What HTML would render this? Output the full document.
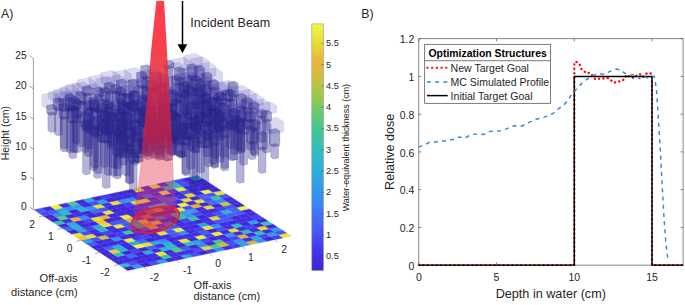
<!DOCTYPE html>
<html><head><meta charset="utf-8"><style>
html,body{margin:0;padding:0;background:#fff;}
svg{display:block;font-family:"Liberation Sans",sans-serif;fill:#262626;}
</style></head><body>
<svg width="685" height="305" viewBox="0 0 685 305">
<rect width="685" height="305" fill="#fff"/>
<text x="1.0" y="18.2" font-size="12.3">A)</text>
<line x1="33.4" y1="58.3" x2="33.4" y2="209.8" stroke="#8a8a8a" stroke-width="0.8"/>
<line x1="33.4" y1="209.8" x2="29.8" y2="207.1" stroke="#777" stroke-width="0.7"/>
<text x="26.6" y="210.2" font-size="10.2" text-anchor="end">0</text>
<line x1="33.4" y1="179.5" x2="29.8" y2="176.8" stroke="#777" stroke-width="0.7"/>
<text x="26.6" y="180.0" font-size="10.2" text-anchor="end">5</text>
<line x1="33.4" y1="149.2" x2="29.8" y2="146.6" stroke="#777" stroke-width="0.7"/>
<text x="26.6" y="149.8" font-size="10.2" text-anchor="end">10</text>
<line x1="33.4" y1="119.0" x2="29.8" y2="116.3" stroke="#777" stroke-width="0.7"/>
<text x="26.6" y="119.5" font-size="10.2" text-anchor="end">15</text>
<line x1="33.4" y1="88.8" x2="29.8" y2="86.0" stroke="#777" stroke-width="0.7"/>
<text x="26.6" y="89.2" font-size="10.2" text-anchor="end">20</text>
<line x1="33.4" y1="58.5" x2="29.8" y2="55.8" stroke="#777" stroke-width="0.7"/>
<text x="26.6" y="59.0" font-size="10.2" text-anchor="end">25</text>
<text transform="translate(9.4,133.2) rotate(-90)" font-size="10.5" text-anchor="middle">Height (cm)</text>
<polygon points="127.7,270.6 135.9,268.8 131.2,265.8 123.0,267.5" fill="#3f27d5" stroke="#3f27d5" stroke-width="0.35"/>
<polygon points="123.0,267.5 131.2,265.8 126.5,262.8 118.3,264.5" fill="#31bac3" stroke="#31bac3" stroke-width="0.35"/>
<polygon points="118.3,264.5 126.5,262.8 121.8,259.7 113.6,261.4" fill="#3f29da" stroke="#3f29da" stroke-width="0.35"/>
<polygon points="113.6,261.4 121.8,259.7 117.1,256.7 109.0,258.4" fill="#402add" stroke="#402add" stroke-width="0.35"/>
<polygon points="109.0,258.4 117.1,256.7 112.5,253.7 104.3,255.4" fill="#3f2adc" stroke="#3f2adc" stroke-width="0.35"/>
<polygon points="104.3,255.4 112.5,253.7 107.8,250.6 99.6,252.3" fill="#3e27d4" stroke="#3e27d4" stroke-width="0.35"/>
<polygon points="99.6,252.3 107.8,250.6 103.1,247.6 94.9,249.3" fill="#412de4" stroke="#412de4" stroke-width="0.35"/>
<polygon points="94.9,249.3 103.1,247.6 98.4,244.5 90.2,246.3" fill="#3f28d7" stroke="#3f28d7" stroke-width="0.35"/>
<polygon points="90.2,246.3 98.4,244.5 93.7,241.5 85.5,243.2" fill="#445df4" stroke="#445df4" stroke-width="0.35"/>
<polygon points="85.5,243.2 93.7,241.5 89.0,238.5 80.8,240.2" fill="#339ce9" stroke="#339ce9" stroke-width="0.35"/>
<polygon points="80.8,240.2 89.0,238.5 84.3,235.4 76.2,237.2" fill="#e8c93a" stroke="#e8c93a" stroke-width="0.35"/>
<polygon points="76.2,237.2 84.3,235.4 79.7,232.4 71.5,234.1" fill="#e7df3a" stroke="#e7df3a" stroke-width="0.35"/>
<polygon points="71.5,234.1 79.7,232.4 75.0,229.4 66.8,231.1" fill="#3e27d5" stroke="#3e27d5" stroke-width="0.35"/>
<polygon points="66.8,231.1 75.0,229.4 70.3,226.3 62.1,228.1" fill="#4267f4" stroke="#4267f4" stroke-width="0.35"/>
<polygon points="62.1,228.1 70.3,226.3 65.6,223.3 57.4,225.0" fill="#402bdf" stroke="#402bdf" stroke-width="0.35"/>
<polygon points="57.4,225.0 65.6,223.3 60.9,220.3 52.7,222.0" fill="#36c1ad" stroke="#36c1ad" stroke-width="0.35"/>
<polygon points="52.7,222.0 60.9,220.3 56.2,217.2 48.1,219.0" fill="#3e27d3" stroke="#3e27d3" stroke-width="0.35"/>
<polygon points="48.1,219.0 56.2,217.2 51.6,214.2 43.4,215.9" fill="#3f28d7" stroke="#3f28d7" stroke-width="0.35"/>
<polygon points="43.4,215.9 51.6,214.2 46.9,211.2 38.7,212.9" fill="#4647f2" stroke="#4647f2" stroke-width="0.35"/>
<polygon points="38.7,212.9 46.9,211.2 42.2,208.1 34.0,209.8" fill="#455bf4" stroke="#455bf4" stroke-width="0.35"/>
<polygon points="135.9,268.8 144.1,267.1 139.4,264.1 131.2,265.8" fill="#3598ec" stroke="#3598ec" stroke-width="0.35"/>
<polygon points="131.2,265.8 139.4,264.1 134.7,261.0 126.5,262.8" fill="#4753f4" stroke="#4753f4" stroke-width="0.35"/>
<polygon points="126.5,262.8 134.7,261.0 130.0,258.0 121.8,259.7" fill="#402bdf" stroke="#402bdf" stroke-width="0.35"/>
<polygon points="121.8,259.7 130.0,258.0 125.3,255.0 117.1,256.7" fill="#412ee6" stroke="#412ee6" stroke-width="0.35"/>
<polygon points="117.1,256.7 125.3,255.0 120.6,251.9 112.5,253.7" fill="#35bfb3" stroke="#35bfb3" stroke-width="0.35"/>
<polygon points="112.5,253.7 120.6,251.9 116.0,248.9 107.8,250.6" fill="#e7cd39" stroke="#e7cd39" stroke-width="0.35"/>
<polygon points="107.8,250.6 116.0,248.9 111.3,245.9 103.1,247.6" fill="#4364f4" stroke="#4364f4" stroke-width="0.35"/>
<polygon points="103.1,247.6 111.3,245.9 106.6,242.8 98.4,244.5" fill="#402add" stroke="#402add" stroke-width="0.35"/>
<polygon points="98.4,244.5 106.6,242.8 101.9,239.8 93.7,241.5" fill="#402ce1" stroke="#402ce1" stroke-width="0.35"/>
<polygon points="93.7,241.5 101.9,239.8 97.2,236.8 89.0,238.5" fill="#484ef3" stroke="#484ef3" stroke-width="0.35"/>
<polygon points="89.0,238.5 97.2,236.8 92.5,233.7 84.3,235.4" fill="#e7e03a" stroke="#e7e03a" stroke-width="0.35"/>
<polygon points="84.3,235.4 92.5,233.7 87.8,230.7 79.7,232.4" fill="#484ef4" stroke="#484ef4" stroke-width="0.35"/>
<polygon points="79.7,232.4 87.8,230.7 83.2,227.7 75.0,229.4" fill="#329fe7" stroke="#329fe7" stroke-width="0.35"/>
<polygon points="75.0,229.4 83.2,227.7 78.5,224.6 70.3,226.3" fill="#2eafda" stroke="#2eafda" stroke-width="0.35"/>
<polygon points="70.3,226.3 78.5,224.6 73.8,221.6 65.6,223.3" fill="#30a8df" stroke="#30a8df" stroke-width="0.35"/>
<polygon points="65.6,223.3 73.8,221.6 69.1,218.5 60.9,220.3" fill="#402ce2" stroke="#402ce2" stroke-width="0.35"/>
<polygon points="60.9,220.3 69.1,218.5 64.4,215.5 56.2,217.2" fill="#5ec87a" stroke="#5ec87a" stroke-width="0.35"/>
<polygon points="56.2,217.2 64.4,215.5 59.7,212.5 51.6,214.2" fill="#3691f1" stroke="#3691f1" stroke-width="0.35"/>
<polygon points="51.6,214.2 59.7,212.5 55.1,209.4 46.9,211.2" fill="#4460f4" stroke="#4460f4" stroke-width="0.35"/>
<polygon points="46.9,211.2 55.1,209.4 50.4,206.4 42.2,208.1" fill="#402adc" stroke="#402adc" stroke-width="0.35"/>
<polygon points="144.1,267.1 152.3,265.4 147.6,262.4 139.4,264.1" fill="#3e27d5" stroke="#3e27d5" stroke-width="0.35"/>
<polygon points="139.4,264.1 147.6,262.4 142.9,259.3 134.7,261.0" fill="#412de3" stroke="#412de3" stroke-width="0.35"/>
<polygon points="134.7,261.0 142.9,259.3 138.2,256.3 130.0,258.0" fill="#3f28d8" stroke="#3f28d8" stroke-width="0.35"/>
<polygon points="130.0,258.0 138.2,256.3 133.5,253.2 125.3,255.0" fill="#416af4" stroke="#416af4" stroke-width="0.35"/>
<polygon points="125.3,255.0 133.5,253.2 128.8,250.2 120.6,251.9" fill="#402adc" stroke="#402adc" stroke-width="0.35"/>
<polygon points="120.6,251.9 128.8,250.2 124.1,247.2 116.0,248.9" fill="#2db2d8" stroke="#2db2d8" stroke-width="0.35"/>
<polygon points="116.0,248.9 124.1,247.2 119.5,244.1 111.3,245.9" fill="#2fabdd" stroke="#2fabdd" stroke-width="0.35"/>
<polygon points="111.3,245.9 119.5,244.1 114.8,241.1 106.6,242.8" fill="#3f2adb" stroke="#3f2adb" stroke-width="0.35"/>
<polygon points="106.6,242.8 114.8,241.1 110.1,238.1 101.9,239.8" fill="#412ee6" stroke="#412ee6" stroke-width="0.35"/>
<polygon points="101.9,239.8 110.1,238.1 105.4,235.0 97.2,236.8" fill="#ccc33c" stroke="#ccc33c" stroke-width="0.35"/>
<polygon points="97.2,236.8 105.4,235.0 100.7,232.0 92.5,233.7" fill="#3f28d7" stroke="#3f28d7" stroke-width="0.35"/>
<polygon points="92.5,233.7 100.7,232.0 96.0,229.0 87.8,230.7" fill="#402add" stroke="#402add" stroke-width="0.35"/>
<polygon points="87.8,230.7 96.0,229.0 91.3,225.9 83.2,227.7" fill="#4540f0" stroke="#4540f0" stroke-width="0.35"/>
<polygon points="83.2,227.7 91.3,225.9 86.7,222.9 78.5,224.6" fill="#3f2adb" stroke="#3f2adb" stroke-width="0.35"/>
<polygon points="78.5,224.6 86.7,222.9 82.0,219.9 73.8,221.6" fill="#402bdf" stroke="#402bdf" stroke-width="0.35"/>
<polygon points="73.8,221.6 82.0,219.9 77.3,216.8 69.1,218.5" fill="#eab03c" stroke="#eab03c" stroke-width="0.35"/>
<polygon points="69.1,218.5 77.3,216.8 72.6,213.8 64.4,215.5" fill="#402be0" stroke="#402be0" stroke-width="0.35"/>
<polygon points="64.4,215.5 72.6,213.8 67.9,210.8 59.7,212.5" fill="#30bac4" stroke="#30bac4" stroke-width="0.35"/>
<polygon points="59.7,212.5 67.9,210.8 63.2,207.7 55.1,209.4" fill="#30a7e0" stroke="#30a7e0" stroke-width="0.35"/>
<polygon points="55.1,209.4 63.2,207.7 58.6,204.7 50.4,206.4" fill="#ecef42" stroke="#ecef42" stroke-width="0.35"/>
<polygon points="152.3,265.4 160.4,263.7 155.8,260.6 147.6,262.4" fill="#4752f4" stroke="#4752f4" stroke-width="0.35"/>
<polygon points="147.6,262.4 155.8,260.6 151.1,257.6 142.9,259.3" fill="#402be0" stroke="#402be0" stroke-width="0.35"/>
<polygon points="142.9,259.3 151.1,257.6 146.4,254.6 138.2,256.3" fill="#3e27d4" stroke="#3e27d4" stroke-width="0.35"/>
<polygon points="138.2,256.3 146.4,254.6 141.7,251.5 133.5,253.2" fill="#3f27d6" stroke="#3f27d6" stroke-width="0.35"/>
<polygon points="133.5,253.2 141.7,251.5 137.0,248.5 128.8,250.2" fill="#4540f0" stroke="#4540f0" stroke-width="0.35"/>
<polygon points="128.8,250.2 137.0,248.5 132.3,245.5 124.1,247.2" fill="#3f27d5" stroke="#3f27d5" stroke-width="0.35"/>
<polygon points="124.1,247.2 132.3,245.5 127.6,242.4 119.5,244.1" fill="#3f29da" stroke="#3f29da" stroke-width="0.35"/>
<polygon points="119.5,244.1 127.6,242.4 123.0,239.4 114.8,241.1" fill="#412de5" stroke="#412de5" stroke-width="0.35"/>
<polygon points="114.8,241.1 123.0,239.4 118.3,236.4 110.1,238.1" fill="#3791f1" stroke="#3791f1" stroke-width="0.35"/>
<polygon points="110.1,238.1 118.3,236.4 113.6,233.3 105.4,235.0" fill="#3f29da" stroke="#3f29da" stroke-width="0.35"/>
<polygon points="105.4,235.0 113.6,233.3 108.9,230.3 100.7,232.0" fill="#4644f1" stroke="#4644f1" stroke-width="0.35"/>
<polygon points="100.7,232.0 108.9,230.3 104.2,227.2 96.0,229.0" fill="#2db1d8" stroke="#2db1d8" stroke-width="0.35"/>
<polygon points="96.0,229.0 104.2,227.2 99.5,224.2 91.3,225.9" fill="#32a0e6" stroke="#32a0e6" stroke-width="0.35"/>
<polygon points="91.3,225.9 99.5,224.2 94.8,221.2 86.7,222.9" fill="#3e27d4" stroke="#3e27d4" stroke-width="0.35"/>
<polygon points="86.7,222.9 94.8,221.2 90.2,218.1 82.0,219.9" fill="#474bf3" stroke="#474bf3" stroke-width="0.35"/>
<polygon points="82.0,219.9 90.2,218.1 85.5,215.1 77.3,216.8" fill="#388cf5" stroke="#388cf5" stroke-width="0.35"/>
<polygon points="77.3,216.8 85.5,215.1 80.8,212.1 72.6,213.8" fill="#412ee7" stroke="#412ee7" stroke-width="0.35"/>
<polygon points="72.6,213.8 80.8,212.1 76.1,209.0 67.9,210.8" fill="#3f27d5" stroke="#3f27d5" stroke-width="0.35"/>
<polygon points="67.9,210.8 76.1,209.0 71.4,206.0 63.2,207.7" fill="#388bf5" stroke="#388bf5" stroke-width="0.35"/>
<polygon points="63.2,207.7 71.4,206.0 66.7,203.0 58.6,204.7" fill="#412ee8" stroke="#412ee8" stroke-width="0.35"/>
<polygon points="160.4,263.7 168.6,261.9 163.9,258.9 155.8,260.6" fill="#31a4e3" stroke="#31a4e3" stroke-width="0.35"/>
<polygon points="155.8,260.6 163.9,258.9 159.3,255.9 151.1,257.6" fill="#3f29da" stroke="#3f29da" stroke-width="0.35"/>
<polygon points="151.1,257.6 159.3,255.9 154.6,252.8 146.4,254.6" fill="#412de3" stroke="#412de3" stroke-width="0.35"/>
<polygon points="146.4,254.6 154.6,252.8 149.9,249.8 141.7,251.5" fill="#2eaddb" stroke="#2eaddb" stroke-width="0.35"/>
<polygon points="141.7,251.5 149.9,249.8 145.2,246.8 137.0,248.5" fill="#3f28d7" stroke="#3f28d7" stroke-width="0.35"/>
<polygon points="137.0,248.5 145.2,246.8 140.5,243.7 132.3,245.5" fill="#eef646" stroke="#eef646" stroke-width="0.35"/>
<polygon points="132.3,245.5 140.5,243.7 135.8,240.7 127.6,242.4" fill="#2fa9df" stroke="#2fa9df" stroke-width="0.35"/>
<polygon points="127.6,242.4 135.8,240.7 131.1,237.7 123.0,239.4" fill="#ebee41" stroke="#ebee41" stroke-width="0.35"/>
<polygon points="123.0,239.4 131.1,237.7 126.5,234.6 118.3,236.4" fill="#402ade" stroke="#402ade" stroke-width="0.35"/>
<polygon points="118.3,236.4 126.5,234.6 121.8,231.6 113.6,233.3" fill="#453ff0" stroke="#453ff0" stroke-width="0.35"/>
<polygon points="113.6,233.3 121.8,231.6 117.1,228.6 108.9,230.3" fill="#3f28d8" stroke="#3f28d8" stroke-width="0.35"/>
<polygon points="108.9,230.3 117.1,228.6 112.4,225.5 104.2,227.2" fill="#402ce1" stroke="#402ce1" stroke-width="0.35"/>
<polygon points="104.2,227.2 112.4,225.5 107.7,222.5 99.5,224.2" fill="#e7e03a" stroke="#e7e03a" stroke-width="0.35"/>
<polygon points="99.5,224.2 107.7,222.5 103.0,219.5 94.8,221.2" fill="#e8c53a" stroke="#e8c53a" stroke-width="0.35"/>
<polygon points="94.8,221.2 103.0,219.5 98.3,216.4 90.2,218.1" fill="#e6dd39" stroke="#e6dd39" stroke-width="0.35"/>
<polygon points="90.2,218.1 98.3,216.4 93.7,213.4 85.5,215.1" fill="#3f28d7" stroke="#3f28d7" stroke-width="0.35"/>
<polygon points="85.5,215.1 93.7,213.4 89.0,210.4 80.8,212.1" fill="#3f28d7" stroke="#3f28d7" stroke-width="0.35"/>
<polygon points="80.8,212.1 89.0,210.4 84.3,207.3 76.1,209.0" fill="#2cb2d7" stroke="#2cb2d7" stroke-width="0.35"/>
<polygon points="76.1,209.0 84.3,207.3 79.6,204.3 71.4,206.0" fill="#349aea" stroke="#349aea" stroke-width="0.35"/>
<polygon points="71.4,206.0 79.6,204.3 74.9,201.2 66.7,203.0" fill="#48c88c" stroke="#48c88c" stroke-width="0.35"/>
<polygon points="168.6,261.9 176.8,260.2 172.1,257.2 163.9,258.9" fill="#402ce1" stroke="#402ce1" stroke-width="0.35"/>
<polygon points="163.9,258.9 172.1,257.2 167.4,254.2 159.3,255.9" fill="#3cc896" stroke="#3cc896" stroke-width="0.35"/>
<polygon points="159.3,255.9 167.4,254.2 162.8,251.1 154.6,252.8" fill="#e9e53d" stroke="#e9e53d" stroke-width="0.35"/>
<polygon points="154.6,252.8 162.8,251.1 158.1,248.1 149.9,249.8" fill="#412de4" stroke="#412de4" stroke-width="0.35"/>
<polygon points="149.9,249.8 158.1,248.1 153.4,245.1 145.2,246.8" fill="#4266f4" stroke="#4266f4" stroke-width="0.35"/>
<polygon points="145.2,246.8 153.4,245.1 148.7,242.0 140.5,243.7" fill="#e7de39" stroke="#e7de39" stroke-width="0.35"/>
<polygon points="140.5,243.7 148.7,242.0 144.0,239.0 135.8,240.7" fill="#406ef4" stroke="#406ef4" stroke-width="0.35"/>
<polygon points="135.8,240.7 144.0,239.0 139.3,235.9 131.1,237.7" fill="#443cef" stroke="#443cef" stroke-width="0.35"/>
<polygon points="131.1,237.7 139.3,235.9 134.6,232.9 126.5,234.6" fill="#3f27d5" stroke="#3f27d5" stroke-width="0.35"/>
<polygon points="126.5,234.6 134.6,232.9 130.0,229.9 121.8,231.6" fill="#3ec894" stroke="#3ec894" stroke-width="0.35"/>
<polygon points="121.8,231.6 130.0,229.9 125.3,226.8 117.1,228.6" fill="#412de4" stroke="#412de4" stroke-width="0.35"/>
<polygon points="117.1,228.6 125.3,226.8 120.6,223.8 112.4,225.5" fill="#eae93f" stroke="#eae93f" stroke-width="0.35"/>
<polygon points="112.4,225.5 120.6,223.8 115.9,220.8 107.7,222.5" fill="#455af4" stroke="#455af4" stroke-width="0.35"/>
<polygon points="107.7,222.5 115.9,220.8 111.2,217.7 103.0,219.5" fill="#3e26d2" stroke="#3e26d2" stroke-width="0.35"/>
<polygon points="103.0,219.5 111.2,217.7 106.5,214.7 98.3,216.4" fill="#eaae3c" stroke="#eaae3c" stroke-width="0.35"/>
<polygon points="98.3,216.4 106.5,214.7 101.8,211.7 93.7,213.4" fill="#412ee7" stroke="#412ee7" stroke-width="0.35"/>
<polygon points="93.7,213.4 101.8,211.7 97.2,208.6 89.0,210.4" fill="#416af4" stroke="#416af4" stroke-width="0.35"/>
<polygon points="89.0,210.4 97.2,208.6 92.5,205.6 84.3,207.3" fill="#378ef3" stroke="#378ef3" stroke-width="0.35"/>
<polygon points="84.3,207.3 92.5,205.6 87.8,202.6 79.6,204.3" fill="#3f29d9" stroke="#3f29d9" stroke-width="0.35"/>
<polygon points="79.6,204.3 87.8,202.6 83.1,199.5 74.9,201.2" fill="#402bdf" stroke="#402bdf" stroke-width="0.35"/>
<polygon points="176.8,260.2 185.0,258.5 180.3,255.5 172.1,257.2" fill="#3f2adb" stroke="#3f2adb" stroke-width="0.35"/>
<polygon points="172.1,257.2 180.3,255.5 175.6,252.4 167.4,254.2" fill="#412ee6" stroke="#412ee6" stroke-width="0.35"/>
<polygon points="167.4,254.2 175.6,252.4 170.9,249.4 162.8,251.1" fill="#402adc" stroke="#402adc" stroke-width="0.35"/>
<polygon points="162.8,251.1 170.9,249.4 166.3,246.4 158.1,248.1" fill="#2cb3d7" stroke="#2cb3d7" stroke-width="0.35"/>
<polygon points="158.1,248.1 166.3,246.4 161.6,243.3 153.4,245.1" fill="#412ee6" stroke="#412ee6" stroke-width="0.35"/>
<polygon points="153.4,245.1 161.6,243.3 156.9,240.3 148.7,242.0" fill="#31a2e4" stroke="#31a2e4" stroke-width="0.35"/>
<polygon points="148.7,242.0 156.9,240.3 152.2,237.3 144.0,239.0" fill="#3e26d2" stroke="#3e26d2" stroke-width="0.35"/>
<polygon points="144.0,239.0 152.2,237.3 147.5,234.2 139.3,235.9" fill="#4647f2" stroke="#4647f2" stroke-width="0.35"/>
<polygon points="139.3,235.9 147.5,234.2 142.8,231.2 134.6,232.9" fill="#412de4" stroke="#412de4" stroke-width="0.35"/>
<polygon points="134.6,232.9 142.8,231.2 138.1,228.2 130.0,229.9" fill="#402add" stroke="#402add" stroke-width="0.35"/>
<polygon points="130.0,229.9 138.1,228.2 133.5,225.1 125.3,226.8" fill="#474df3" stroke="#474df3" stroke-width="0.35"/>
<polygon points="125.3,226.8 133.5,225.1 128.8,222.1 120.6,223.8" fill="#4658f4" stroke="#4658f4" stroke-width="0.35"/>
<polygon points="120.6,223.8 128.8,222.1 124.1,219.1 115.9,220.8" fill="#4656f4" stroke="#4656f4" stroke-width="0.35"/>
<polygon points="115.9,220.8 124.1,219.1 119.4,216.0 111.2,217.7" fill="#402bde" stroke="#402bde" stroke-width="0.35"/>
<polygon points="111.2,217.7 119.4,216.0 114.7,213.0 106.5,214.7" fill="#3f28d8" stroke="#3f28d8" stroke-width="0.35"/>
<polygon points="106.5,214.7 114.7,213.0 110.0,209.9 101.8,211.7" fill="#e9e63d" stroke="#e9e63d" stroke-width="0.35"/>
<polygon points="101.8,211.7 110.0,209.9 105.3,206.9 97.2,208.6" fill="#4755f4" stroke="#4755f4" stroke-width="0.35"/>
<polygon points="97.2,208.6 105.3,206.9 100.7,203.9 92.5,205.6" fill="#e8e43c" stroke="#e8e43c" stroke-width="0.35"/>
<polygon points="92.5,205.6 100.7,203.9 96.0,200.8 87.8,202.6" fill="#474bf3" stroke="#474bf3" stroke-width="0.35"/>
<polygon points="87.8,202.6 96.0,200.8 91.3,197.8 83.1,199.5" fill="#2fa9de" stroke="#2fa9de" stroke-width="0.35"/>
<polygon points="185.0,258.5 193.2,256.8 188.5,253.8 180.3,255.5" fill="#31a2e4" stroke="#31a2e4" stroke-width="0.35"/>
<polygon points="180.3,255.5 188.5,253.8 183.8,250.7 175.6,252.4" fill="#412ee7" stroke="#412ee7" stroke-width="0.35"/>
<polygon points="175.6,252.4 183.8,250.7 179.1,247.7 170.9,249.4" fill="#51c885" stroke="#51c885" stroke-width="0.35"/>
<polygon points="170.9,249.4 179.1,247.7 174.4,244.7 166.3,246.4" fill="#34bdb8" stroke="#34bdb8" stroke-width="0.35"/>
<polygon points="166.3,246.4 174.4,244.7 169.8,241.6 161.6,243.3" fill="#2cb4d6" stroke="#2cb4d6" stroke-width="0.35"/>
<polygon points="161.6,243.3 169.8,241.6 165.1,238.6 156.9,240.3" fill="#388af5" stroke="#388af5" stroke-width="0.35"/>
<polygon points="156.9,240.3 165.1,238.6 160.4,235.5 152.2,237.3" fill="#402adc" stroke="#402adc" stroke-width="0.35"/>
<polygon points="152.2,237.3 160.4,235.5 155.7,232.5 147.5,234.2" fill="#3f28d7" stroke="#3f28d7" stroke-width="0.35"/>
<polygon points="147.5,234.2 155.7,232.5 151.0,229.5 142.8,231.2" fill="#402ce1" stroke="#402ce1" stroke-width="0.35"/>
<polygon points="142.8,231.2 151.0,229.5 146.3,226.4 138.1,228.2" fill="#455bf4" stroke="#455bf4" stroke-width="0.35"/>
<polygon points="138.1,228.2 146.3,226.4 141.6,223.4 133.5,225.1" fill="#3cc798" stroke="#3cc798" stroke-width="0.35"/>
<polygon points="133.5,225.1 141.6,223.4 137.0,220.4 128.8,222.1" fill="#2db0d9" stroke="#2db0d9" stroke-width="0.35"/>
<polygon points="128.8,222.1 137.0,220.4 132.3,217.3 124.1,219.1" fill="#dcb73c" stroke="#dcb73c" stroke-width="0.35"/>
<polygon points="124.1,219.1 132.3,217.3 127.6,214.3 119.4,216.0" fill="#ecef42" stroke="#ecef42" stroke-width="0.35"/>
<polygon points="119.4,216.0 127.6,214.3 122.9,211.3 114.7,213.0" fill="#3f2adc" stroke="#3f2adc" stroke-width="0.35"/>
<polygon points="114.7,213.0 122.9,211.3 118.2,208.2 110.0,209.9" fill="#3f29da" stroke="#3f29da" stroke-width="0.35"/>
<polygon points="110.0,209.9 118.2,208.2 113.5,205.2 105.3,206.9" fill="#3f29d9" stroke="#3f29d9" stroke-width="0.35"/>
<polygon points="105.3,206.9 113.5,205.2 108.8,202.2 100.7,203.9" fill="#4335ed" stroke="#4335ed" stroke-width="0.35"/>
<polygon points="100.7,203.9 108.8,202.2 104.2,199.1 96.0,200.8" fill="#339ee7" stroke="#339ee7" stroke-width="0.35"/>
<polygon points="96.0,200.8 104.2,199.1 99.5,196.1 91.3,197.8" fill="#3f29d9" stroke="#3f29d9" stroke-width="0.35"/>
<polygon points="193.2,256.8 201.4,255.1 196.7,252.0 188.5,253.8" fill="#474bf3" stroke="#474bf3" stroke-width="0.35"/>
<polygon points="188.5,253.8 196.7,252.0 192.0,249.0 183.8,250.7" fill="#412ee8" stroke="#412ee8" stroke-width="0.35"/>
<polygon points="183.8,250.7 192.0,249.0 187.3,246.0 179.1,247.7" fill="#445ef4" stroke="#445ef4" stroke-width="0.35"/>
<polygon points="179.1,247.7 187.3,246.0 182.6,242.9 174.4,244.7" fill="#3f28d8" stroke="#3f28d8" stroke-width="0.35"/>
<polygon points="174.4,244.7 182.6,242.9 177.9,239.9 169.8,241.6" fill="#412de3" stroke="#412de3" stroke-width="0.35"/>
<polygon points="169.8,241.6 177.9,239.9 173.3,236.9 165.1,238.6" fill="#3e27d5" stroke="#3e27d5" stroke-width="0.35"/>
<polygon points="165.1,238.6 173.3,236.9 168.6,233.8 160.4,235.5" fill="#412ee6" stroke="#412ee6" stroke-width="0.35"/>
<polygon points="160.4,235.5 168.6,233.8 163.9,230.8 155.7,232.5" fill="#e7de39" stroke="#e7de39" stroke-width="0.35"/>
<polygon points="155.7,232.5 163.9,230.8 159.2,227.8 151.0,229.5" fill="#412ee6" stroke="#412ee6" stroke-width="0.35"/>
<polygon points="151.0,229.5 159.2,227.8 154.5,224.7 146.3,226.4" fill="#e8c93a" stroke="#e8c93a" stroke-width="0.35"/>
<polygon points="146.3,226.4 154.5,224.7 149.8,221.7 141.6,223.4" fill="#e9ad3c" stroke="#e9ad3c" stroke-width="0.35"/>
<polygon points="141.6,223.4 149.8,221.7 145.1,218.7 137.0,220.4" fill="#e9e43c" stroke="#e9e43c" stroke-width="0.35"/>
<polygon points="137.0,220.4 145.1,218.7 140.5,215.6 132.3,217.3" fill="#455cf4" stroke="#455cf4" stroke-width="0.35"/>
<polygon points="132.3,217.3 140.5,215.6 135.8,212.6 127.6,214.3" fill="#402bde" stroke="#402bde" stroke-width="0.35"/>
<polygon points="127.6,214.3 135.8,212.6 131.1,209.5 122.9,211.3" fill="#3f27d6" stroke="#3f27d6" stroke-width="0.35"/>
<polygon points="122.9,211.3 131.1,209.5 126.4,206.5 118.2,208.2" fill="#3f28d6" stroke="#3f28d6" stroke-width="0.35"/>
<polygon points="118.2,208.2 126.4,206.5 121.7,203.5 113.5,205.2" fill="#3f29d9" stroke="#3f29d9" stroke-width="0.35"/>
<polygon points="113.5,205.2 121.7,203.5 117.0,200.4 108.8,202.2" fill="#e7df3a" stroke="#e7df3a" stroke-width="0.35"/>
<polygon points="108.8,202.2 117.0,200.4 112.3,197.4 104.2,199.1" fill="#3f28d6" stroke="#3f28d6" stroke-width="0.35"/>
<polygon points="104.2,199.1 112.3,197.4 107.7,194.4 99.5,196.1" fill="#453ef0" stroke="#453ef0" stroke-width="0.35"/>
<polygon points="201.4,255.1 209.5,253.3 204.9,250.3 196.7,252.0" fill="#3e26d2" stroke="#3e26d2" stroke-width="0.35"/>
<polygon points="196.7,252.0 204.9,250.3 200.2,247.3 192.0,249.0" fill="#474df3" stroke="#474df3" stroke-width="0.35"/>
<polygon points="192.0,249.0 200.2,247.3 195.5,244.2 187.3,246.0" fill="#402add" stroke="#402add" stroke-width="0.35"/>
<polygon points="187.3,246.0 195.5,244.2 190.8,241.2 182.6,242.9" fill="#31bac1" stroke="#31bac1" stroke-width="0.35"/>
<polygon points="182.6,242.9 190.8,241.2 186.1,238.2 177.9,239.9" fill="#e8e43c" stroke="#e8e43c" stroke-width="0.35"/>
<polygon points="177.9,239.9 186.1,238.2 181.4,235.1 173.3,236.9" fill="#412de5" stroke="#412de5" stroke-width="0.35"/>
<polygon points="173.3,236.9 181.4,235.1 176.8,232.1 168.6,233.8" fill="#4657f4" stroke="#4657f4" stroke-width="0.35"/>
<polygon points="168.6,233.8 176.8,232.1 172.1,229.1 163.9,230.8" fill="#445ff4" stroke="#445ff4" stroke-width="0.35"/>
<polygon points="163.9,230.8 172.1,229.1 167.4,226.0 159.2,227.8" fill="#4268f4" stroke="#4268f4" stroke-width="0.35"/>
<polygon points="159.2,227.8 167.4,226.0 162.7,223.0 154.5,224.7" fill="#4646f2" stroke="#4646f2" stroke-width="0.35"/>
<polygon points="154.5,224.7 162.7,223.0 158.0,220.0 149.8,221.7" fill="#ebec41" stroke="#ebec41" stroke-width="0.35"/>
<polygon points="149.8,221.7 158.0,220.0 153.3,216.9 145.1,218.7" fill="#4645f1" stroke="#4645f1" stroke-width="0.35"/>
<polygon points="145.1,218.7 153.3,216.9 148.6,213.9 140.5,215.6" fill="#e8ad3c" stroke="#e8ad3c" stroke-width="0.35"/>
<polygon points="140.5,215.6 148.6,213.9 144.0,210.9 135.8,212.6" fill="#3f28d6" stroke="#3f28d6" stroke-width="0.35"/>
<polygon points="135.8,212.6 144.0,210.9 139.3,207.8 131.1,209.5" fill="#3f29da" stroke="#3f29da" stroke-width="0.35"/>
<polygon points="131.1,209.5 139.3,207.8 134.6,204.8 126.4,206.5" fill="#412ee8" stroke="#412ee8" stroke-width="0.35"/>
<polygon points="126.4,206.5 134.6,204.8 129.9,201.8 121.7,203.5" fill="#453ff0" stroke="#453ff0" stroke-width="0.35"/>
<polygon points="121.7,203.5 129.9,201.8 125.2,198.7 117.0,200.4" fill="#378ef3" stroke="#378ef3" stroke-width="0.35"/>
<polygon points="117.0,200.4 125.2,198.7 120.5,195.7 112.3,197.4" fill="#3f29d9" stroke="#3f29d9" stroke-width="0.35"/>
<polygon points="112.3,197.4 120.5,195.7 115.8,192.7 107.7,194.4" fill="#3f28d8" stroke="#3f28d8" stroke-width="0.35"/>
<polygon points="209.5,253.3 217.7,251.6 213.0,248.6 204.9,250.3" fill="#453ff0" stroke="#453ff0" stroke-width="0.35"/>
<polygon points="204.9,250.3 213.0,248.6 208.4,245.6 200.2,247.3" fill="#e7d639" stroke="#e7d639" stroke-width="0.35"/>
<polygon points="200.2,247.3 208.4,245.6 203.7,242.5 195.5,244.2" fill="#388bf5" stroke="#388bf5" stroke-width="0.35"/>
<polygon points="195.5,244.2 203.7,242.5 199.0,239.5 190.8,241.2" fill="#339ce9" stroke="#339ce9" stroke-width="0.35"/>
<polygon points="190.8,241.2 199.0,239.5 194.3,236.5 186.1,238.2" fill="#402be0" stroke="#402be0" stroke-width="0.35"/>
<polygon points="186.1,238.2 194.3,236.5 189.6,233.4 181.4,235.1" fill="#412ee7" stroke="#412ee7" stroke-width="0.35"/>
<polygon points="181.4,235.1 189.6,233.4 184.9,230.4 176.8,232.1" fill="#388cf5" stroke="#388cf5" stroke-width="0.35"/>
<polygon points="176.8,232.1 184.9,230.4 180.3,227.3 172.1,229.1" fill="#ecef42" stroke="#ecef42" stroke-width="0.35"/>
<polygon points="172.1,229.1 180.3,227.3 175.6,224.3 167.4,226.0" fill="#4656f4" stroke="#4656f4" stroke-width="0.35"/>
<polygon points="167.4,226.0 175.6,224.3 170.9,221.3 162.7,223.0" fill="#3597ed" stroke="#3597ed" stroke-width="0.35"/>
<polygon points="162.7,223.0 170.9,221.3 166.2,218.2 158.0,220.0" fill="#412de4" stroke="#412de4" stroke-width="0.35"/>
<polygon points="158.0,220.0 166.2,218.2 161.5,215.2 153.3,216.9" fill="#339de8" stroke="#339de8" stroke-width="0.35"/>
<polygon points="153.3,216.9 161.5,215.2 156.8,212.2 148.6,213.9" fill="#412ee6" stroke="#412ee6" stroke-width="0.35"/>
<polygon points="148.6,213.9 156.8,212.2 152.1,209.1 144.0,210.9" fill="#47c88d" stroke="#47c88d" stroke-width="0.35"/>
<polygon points="144.0,210.9 152.1,209.1 147.5,206.1 139.3,207.8" fill="#4438ee" stroke="#4438ee" stroke-width="0.35"/>
<polygon points="139.3,207.8 147.5,206.1 142.8,203.1 134.6,204.8" fill="#402be0" stroke="#402be0" stroke-width="0.35"/>
<polygon points="134.6,204.8 142.8,203.1 138.1,200.0 129.9,201.8" fill="#e7de39" stroke="#e7de39" stroke-width="0.35"/>
<polygon points="129.9,201.8 138.1,200.0 133.4,197.0 125.2,198.7" fill="#388df5" stroke="#388df5" stroke-width="0.35"/>
<polygon points="125.2,198.7 133.4,197.0 128.7,194.0 120.5,195.7" fill="#402bde" stroke="#402bde" stroke-width="0.35"/>
<polygon points="120.5,195.7 128.7,194.0 124.0,190.9 115.8,192.7" fill="#3f28d8" stroke="#3f28d8" stroke-width="0.35"/>
<polygon points="217.7,251.6 225.9,249.9 221.2,246.9 213.0,248.6" fill="#388df4" stroke="#388df4" stroke-width="0.35"/>
<polygon points="213.0,248.6 221.2,246.9 216.5,243.8 208.4,245.6" fill="#47c88d" stroke="#47c88d" stroke-width="0.35"/>
<polygon points="208.4,245.6 216.5,243.8 211.9,240.8 203.7,242.5" fill="#402bde" stroke="#402bde" stroke-width="0.35"/>
<polygon points="203.7,242.5 211.9,240.8 207.2,237.8 199.0,239.5" fill="#4749f2" stroke="#4749f2" stroke-width="0.35"/>
<polygon points="199.0,239.5 207.2,237.8 202.5,234.7 194.3,236.5" fill="#ecf143" stroke="#ecf143" stroke-width="0.35"/>
<polygon points="194.3,236.5 202.5,234.7 197.8,231.7 189.6,233.4" fill="#412ce3" stroke="#412ce3" stroke-width="0.35"/>
<polygon points="189.6,233.4 197.8,231.7 193.1,228.7 184.9,230.4" fill="#402ce0" stroke="#402ce0" stroke-width="0.35"/>
<polygon points="184.9,230.4 193.1,228.7 188.4,225.6 180.3,227.3" fill="#412de5" stroke="#412de5" stroke-width="0.35"/>
<polygon points="180.3,227.3 188.4,225.6 183.8,222.6 175.6,224.3" fill="#412ee6" stroke="#412ee6" stroke-width="0.35"/>
<polygon points="175.6,224.3 183.8,222.6 179.1,219.6 170.9,221.3" fill="#3e26d3" stroke="#3e26d3" stroke-width="0.35"/>
<polygon points="170.9,221.3 179.1,219.6 174.4,216.5 166.2,218.2" fill="#402bdf" stroke="#402bdf" stroke-width="0.35"/>
<polygon points="166.2,218.2 174.4,216.5 169.7,213.5 161.5,215.2" fill="#4753f4" stroke="#4753f4" stroke-width="0.35"/>
<polygon points="161.5,215.2 169.7,213.5 165.0,210.5 156.8,212.2" fill="#402add" stroke="#402add" stroke-width="0.35"/>
<polygon points="156.8,212.2 165.0,210.5 160.3,207.4 152.1,209.1" fill="#e7cc39" stroke="#e7cc39" stroke-width="0.35"/>
<polygon points="152.1,209.1 160.3,207.4 155.6,204.4 147.5,206.1" fill="#2faade" stroke="#2faade" stroke-width="0.35"/>
<polygon points="147.5,206.1 155.6,204.4 151.0,201.3 142.8,203.1" fill="#402adc" stroke="#402adc" stroke-width="0.35"/>
<polygon points="142.8,203.1 151.0,201.3 146.3,198.3 138.1,200.0" fill="#eef646" stroke="#eef646" stroke-width="0.35"/>
<polygon points="138.1,200.0 146.3,198.3 141.6,195.3 133.4,197.0" fill="#3f29d9" stroke="#3f29d9" stroke-width="0.35"/>
<polygon points="133.4,197.0 141.6,195.3 136.9,192.2 128.7,194.0" fill="#402add" stroke="#402add" stroke-width="0.35"/>
<polygon points="128.7,194.0 136.9,192.2 132.2,189.2 124.0,190.9" fill="#3e27d4" stroke="#3e27d4" stroke-width="0.35"/>
<polygon points="225.9,249.9 234.1,248.2 229.4,245.2 221.2,246.9" fill="#412fe8" stroke="#412fe8" stroke-width="0.35"/>
<polygon points="221.2,246.9 229.4,245.2 224.7,242.1 216.5,243.8" fill="#dbb83c" stroke="#dbb83c" stroke-width="0.35"/>
<polygon points="216.5,243.8 224.7,242.1 220.0,239.1 211.9,240.8" fill="#4ac88a" stroke="#4ac88a" stroke-width="0.35"/>
<polygon points="211.9,240.8 220.0,239.1 215.4,236.1 207.2,237.8" fill="#3e27d4" stroke="#3e27d4" stroke-width="0.35"/>
<polygon points="207.2,237.8 215.4,236.1 210.7,233.0 202.5,234.7" fill="#4540f0" stroke="#4540f0" stroke-width="0.35"/>
<polygon points="202.5,234.7 210.7,233.0 206.0,230.0 197.8,231.7" fill="#455cf4" stroke="#455cf4" stroke-width="0.35"/>
<polygon points="197.8,231.7 206.0,230.0 201.3,226.9 193.1,228.7" fill="#4541f0" stroke="#4541f0" stroke-width="0.35"/>
<polygon points="193.1,228.7 201.3,226.9 196.6,223.9 188.4,225.6" fill="#3f29da" stroke="#3f29da" stroke-width="0.35"/>
<polygon points="188.4,225.6 196.6,223.9 191.9,220.9 183.8,222.6" fill="#412ee6" stroke="#412ee6" stroke-width="0.35"/>
<polygon points="183.8,222.6 191.9,220.9 187.3,217.8 179.1,219.6" fill="#4646f1" stroke="#4646f1" stroke-width="0.35"/>
<polygon points="179.1,219.6 187.3,217.8 182.6,214.8 174.4,216.5" fill="#3ac69d" stroke="#3ac69d" stroke-width="0.35"/>
<polygon points="174.4,216.5 182.6,214.8 177.9,211.8 169.7,213.5" fill="#37c2aa" stroke="#37c2aa" stroke-width="0.35"/>
<polygon points="169.7,213.5 177.9,211.8 173.2,208.7 165.0,210.5" fill="#3f29d9" stroke="#3f29d9" stroke-width="0.35"/>
<polygon points="165.0,210.5 173.2,208.7 168.5,205.7 160.3,207.4" fill="#4752f4" stroke="#4752f4" stroke-width="0.35"/>
<polygon points="160.3,207.4 168.5,205.7 163.8,202.7 155.6,204.4" fill="#33bcbc" stroke="#33bcbc" stroke-width="0.35"/>
<polygon points="155.6,204.4 163.8,202.7 159.1,199.6 151.0,201.3" fill="#412ce2" stroke="#412ce2" stroke-width="0.35"/>
<polygon points="151.0,201.3 159.1,199.6 154.5,196.6 146.3,198.3" fill="#3e27d3" stroke="#3e27d3" stroke-width="0.35"/>
<polygon points="146.3,198.3 154.5,196.6 149.8,193.6 141.6,195.3" fill="#416af4" stroke="#416af4" stroke-width="0.35"/>
<polygon points="141.6,195.3 149.8,193.6 145.1,190.5 136.9,192.2" fill="#412ee7" stroke="#412ee7" stroke-width="0.35"/>
<polygon points="136.9,192.2 145.1,190.5 140.4,187.5 132.2,189.2" fill="#edf143" stroke="#edf143" stroke-width="0.35"/>
<polygon points="234.1,248.2 242.3,246.5 237.6,243.4 229.4,245.2" fill="#4540f0" stroke="#4540f0" stroke-width="0.35"/>
<polygon points="229.4,245.2 237.6,243.4 232.9,240.4 224.7,242.1" fill="#4850f4" stroke="#4850f4" stroke-width="0.35"/>
<polygon points="224.7,242.1 232.9,240.4 228.2,237.4 220.0,239.1" fill="#412ee8" stroke="#412ee8" stroke-width="0.35"/>
<polygon points="220.0,239.1 228.2,237.4 223.6,234.3 215.4,236.1" fill="#3f29d9" stroke="#3f29d9" stroke-width="0.35"/>
<polygon points="215.4,236.1 223.6,234.3 218.9,231.3 210.7,233.0" fill="#ecef42" stroke="#ecef42" stroke-width="0.35"/>
<polygon points="210.7,233.0 218.9,231.3 214.2,228.3 206.0,230.0" fill="#3e26d3" stroke="#3e26d3" stroke-width="0.35"/>
<polygon points="206.0,230.0 214.2,228.3 209.5,225.2 201.3,226.9" fill="#e8e33c" stroke="#e8e33c" stroke-width="0.35"/>
<polygon points="201.3,226.9 209.5,225.2 204.8,222.2 196.6,223.9" fill="#339de8" stroke="#339de8" stroke-width="0.35"/>
<polygon points="196.6,223.9 204.8,222.2 200.1,219.2 191.9,220.9" fill="#3e27d4" stroke="#3e27d4" stroke-width="0.35"/>
<polygon points="191.9,220.9 200.1,219.2 195.4,216.1 187.3,217.8" fill="#36c1ae" stroke="#36c1ae" stroke-width="0.35"/>
<polygon points="187.3,217.8 195.4,216.1 190.8,213.1 182.6,214.8" fill="#3790f2" stroke="#3790f2" stroke-width="0.35"/>
<polygon points="182.6,214.8 190.8,213.1 186.1,210.1 177.9,211.8" fill="#349aea" stroke="#349aea" stroke-width="0.35"/>
<polygon points="177.9,211.8 186.1,210.1 181.4,207.0 173.2,208.7" fill="#eae73e" stroke="#eae73e" stroke-width="0.35"/>
<polygon points="173.2,208.7 181.4,207.0 176.7,204.0 168.5,205.7" fill="#3f2adb" stroke="#3f2adb" stroke-width="0.35"/>
<polygon points="168.5,205.7 176.7,204.0 172.0,200.9 163.8,202.7" fill="#474bf3" stroke="#474bf3" stroke-width="0.35"/>
<polygon points="163.8,202.7 172.0,200.9 167.3,197.9 159.1,199.6" fill="#4851f4" stroke="#4851f4" stroke-width="0.35"/>
<polygon points="159.1,199.6 167.3,197.9 162.6,194.9 154.5,196.6" fill="#474af2" stroke="#474af2" stroke-width="0.35"/>
<polygon points="154.5,196.6 162.6,194.9 158.0,191.8 149.8,193.6" fill="#402ce1" stroke="#402ce1" stroke-width="0.35"/>
<polygon points="149.8,193.6 158.0,191.8 153.3,188.8 145.1,190.5" fill="#402ce0" stroke="#402ce0" stroke-width="0.35"/>
<polygon points="145.1,190.5 153.3,188.8 148.6,185.8 140.4,187.5" fill="#402add" stroke="#402add" stroke-width="0.35"/>
<polygon points="242.3,246.5 250.5,244.8 245.8,241.7 237.6,243.4" fill="#339de8" stroke="#339de8" stroke-width="0.35"/>
<polygon points="237.6,243.4 245.8,241.7 241.1,238.7 232.9,240.4" fill="#3499eb" stroke="#3499eb" stroke-width="0.35"/>
<polygon points="232.9,240.4 241.1,238.7 236.4,235.6 228.2,237.4" fill="#4647f2" stroke="#4647f2" stroke-width="0.35"/>
<polygon points="228.2,237.4 236.4,235.6 231.7,232.6 223.6,234.3" fill="#3595ee" stroke="#3595ee" stroke-width="0.35"/>
<polygon points="223.6,234.3 231.7,232.6 227.1,229.6 218.9,231.3" fill="#402bde" stroke="#402bde" stroke-width="0.35"/>
<polygon points="218.9,231.3 227.1,229.6 222.4,226.5 214.2,228.3" fill="#4851f4" stroke="#4851f4" stroke-width="0.35"/>
<polygon points="214.2,228.3 222.4,226.5 217.7,223.5 209.5,225.2" fill="#378ef4" stroke="#378ef4" stroke-width="0.35"/>
<polygon points="209.5,225.2 217.7,223.5 213.0,220.5 204.8,222.2" fill="#412de5" stroke="#412de5" stroke-width="0.35"/>
<polygon points="204.8,222.2 213.0,220.5 208.3,217.4 200.1,219.2" fill="#412ce3" stroke="#412ce3" stroke-width="0.35"/>
<polygon points="200.1,219.2 208.3,217.4 203.6,214.4 195.4,216.1" fill="#3f28d8" stroke="#3f28d8" stroke-width="0.35"/>
<polygon points="195.4,216.1 203.6,214.4 198.9,211.4 190.8,213.1" fill="#474af3" stroke="#474af3" stroke-width="0.35"/>
<polygon points="190.8,213.1 198.9,211.4 194.3,208.3 186.1,210.1" fill="#349aea" stroke="#349aea" stroke-width="0.35"/>
<polygon points="186.1,210.1 194.3,208.3 189.6,205.3 181.4,207.0" fill="#474cf3" stroke="#474cf3" stroke-width="0.35"/>
<polygon points="181.4,207.0 189.6,205.3 184.9,202.3 176.7,204.0" fill="#ecf143" stroke="#ecf143" stroke-width="0.35"/>
<polygon points="176.7,204.0 184.9,202.3 180.2,199.2 172.0,200.9" fill="#412ee6" stroke="#412ee6" stroke-width="0.35"/>
<polygon points="172.0,200.9 180.2,199.2 175.5,196.2 167.3,197.9" fill="#445ef4" stroke="#445ef4" stroke-width="0.35"/>
<polygon points="167.3,197.9 175.5,196.2 170.8,193.2 162.6,194.9" fill="#3f29d9" stroke="#3f29d9" stroke-width="0.35"/>
<polygon points="162.6,194.9 170.8,193.2 166.1,190.1 158.0,191.8" fill="#eef545" stroke="#eef545" stroke-width="0.35"/>
<polygon points="158.0,191.8 166.1,190.1 161.5,187.1 153.3,188.8" fill="#3f2adb" stroke="#3f2adb" stroke-width="0.35"/>
<polygon points="153.3,188.8 161.5,187.1 156.8,184.1 148.6,185.8" fill="#ecf043" stroke="#ecf043" stroke-width="0.35"/>
<polygon points="250.5,244.8 258.7,243.0 254.0,240.0 245.8,241.7" fill="#e1b33c" stroke="#e1b33c" stroke-width="0.35"/>
<polygon points="245.8,241.7 254.0,240.0 249.3,237.0 241.1,238.7" fill="#412ee7" stroke="#412ee7" stroke-width="0.35"/>
<polygon points="241.1,238.7 249.3,237.0 244.6,233.9 236.4,235.6" fill="#e4b13c" stroke="#e4b13c" stroke-width="0.35"/>
<polygon points="236.4,235.6 244.6,233.9 239.9,230.9 231.7,232.6" fill="#402adc" stroke="#402adc" stroke-width="0.35"/>
<polygon points="231.7,232.6 239.9,230.9 235.2,227.9 227.1,229.6" fill="#e6dd38" stroke="#e6dd38" stroke-width="0.35"/>
<polygon points="227.1,229.6 235.2,227.9 230.6,224.8 222.4,226.5" fill="#412ee8" stroke="#412ee8" stroke-width="0.35"/>
<polygon points="222.4,226.5 230.6,224.8 225.9,221.8 217.7,223.5" fill="#412de4" stroke="#412de4" stroke-width="0.35"/>
<polygon points="217.7,223.5 225.9,221.8 221.2,218.8 213.0,220.5" fill="#4659f4" stroke="#4659f4" stroke-width="0.35"/>
<polygon points="213.0,220.5 221.2,218.8 216.5,215.7 208.3,217.4" fill="#e7d639" stroke="#e7d639" stroke-width="0.35"/>
<polygon points="208.3,217.4 216.5,215.7 211.8,212.7 203.6,214.4" fill="#4334ed" stroke="#4334ed" stroke-width="0.35"/>
<polygon points="203.6,214.4 211.8,212.7 207.1,209.6 198.9,211.4" fill="#402bdf" stroke="#402bdf" stroke-width="0.35"/>
<polygon points="198.9,211.4 207.1,209.6 202.4,206.6 194.3,208.3" fill="#402ce2" stroke="#402ce2" stroke-width="0.35"/>
<polygon points="194.3,208.3 202.4,206.6 197.8,203.6 189.6,205.3" fill="#eaac3c" stroke="#eaac3c" stroke-width="0.35"/>
<polygon points="189.6,205.3 197.8,203.6 193.1,200.5 184.9,202.3" fill="#3f2adc" stroke="#3f2adc" stroke-width="0.35"/>
<polygon points="184.9,202.3 193.1,200.5 188.4,197.5 180.2,199.2" fill="#e6d638" stroke="#e6d638" stroke-width="0.35"/>
<polygon points="180.2,199.2 188.4,197.5 183.7,194.5 175.5,196.2" fill="#412ee7" stroke="#412ee7" stroke-width="0.35"/>
<polygon points="175.5,196.2 183.7,194.5 179.0,191.4 170.8,193.2" fill="#3f28d8" stroke="#3f28d8" stroke-width="0.35"/>
<polygon points="170.8,193.2 179.0,191.4 174.3,188.4 166.1,190.1" fill="#4334ed" stroke="#4334ed" stroke-width="0.35"/>
<polygon points="166.1,190.1 174.3,188.4 169.6,185.4 161.5,187.1" fill="#2db5d2" stroke="#2db5d2" stroke-width="0.35"/>
<polygon points="161.5,187.1 169.6,185.4 165.0,182.3 156.8,184.1" fill="#3f29d9" stroke="#3f29d9" stroke-width="0.35"/>
<polygon points="258.7,243.0 266.8,241.3 262.2,238.3 254.0,240.0" fill="#3790f2" stroke="#3790f2" stroke-width="0.35"/>
<polygon points="254.0,240.0 262.2,238.3 257.5,235.2 249.3,237.0" fill="#31a3e3" stroke="#31a3e3" stroke-width="0.35"/>
<polygon points="249.3,237.0 257.5,235.2 252.8,232.2 244.6,233.9" fill="#3f2adb" stroke="#3f2adb" stroke-width="0.35"/>
<polygon points="244.6,233.9 252.8,232.2 248.1,229.2 239.9,230.9" fill="#30bac4" stroke="#30bac4" stroke-width="0.35"/>
<polygon points="239.9,230.9 248.1,229.2 243.4,226.1 235.2,227.9" fill="#412ee6" stroke="#412ee6" stroke-width="0.35"/>
<polygon points="235.2,227.9 243.4,226.1 238.7,223.1 230.6,224.8" fill="#31bac2" stroke="#31bac2" stroke-width="0.35"/>
<polygon points="230.6,224.8 238.7,223.1 234.1,220.1 225.9,221.8" fill="#3f2adb" stroke="#3f2adb" stroke-width="0.35"/>
<polygon points="225.9,221.8 234.1,220.1 229.4,217.0 221.2,218.8" fill="#4657f4" stroke="#4657f4" stroke-width="0.35"/>
<polygon points="221.2,218.8 229.4,217.0 224.7,214.0 216.5,215.7" fill="#4754f4" stroke="#4754f4" stroke-width="0.35"/>
<polygon points="216.5,215.7 224.7,214.0 220.0,211.0 211.8,212.7" fill="#4752f4" stroke="#4752f4" stroke-width="0.35"/>
<polygon points="211.8,212.7 220.0,211.0 215.3,207.9 207.1,209.6" fill="#3f29d9" stroke="#3f29d9" stroke-width="0.35"/>
<polygon points="207.1,209.6 215.3,207.9 210.6,204.9 202.4,206.6" fill="#e7d539" stroke="#e7d539" stroke-width="0.35"/>
<polygon points="202.4,206.6 210.6,204.9 205.9,201.9 197.8,203.6" fill="#3f28d6" stroke="#3f28d6" stroke-width="0.35"/>
<polygon points="197.8,203.6 205.9,201.9 201.3,198.8 193.1,200.5" fill="#e6dc38" stroke="#e6dc38" stroke-width="0.35"/>
<polygon points="193.1,200.5 201.3,198.8 196.6,195.8 188.4,197.5" fill="#3f28d8" stroke="#3f28d8" stroke-width="0.35"/>
<polygon points="188.4,197.5 196.6,195.8 191.9,192.8 183.7,194.5" fill="#e6d738" stroke="#e6d738" stroke-width="0.35"/>
<polygon points="183.7,194.5 191.9,192.8 187.2,189.7 179.0,191.4" fill="#484ff4" stroke="#484ff4" stroke-width="0.35"/>
<polygon points="179.0,191.4 187.2,189.7 182.5,186.7 174.3,188.4" fill="#e9e53d" stroke="#e9e53d" stroke-width="0.35"/>
<polygon points="174.3,188.4 182.5,186.7 177.8,183.6 169.6,185.4" fill="#30b9c5" stroke="#30b9c5" stroke-width="0.35"/>
<polygon points="169.6,185.4 177.8,183.6 173.1,180.6 165.0,182.3" fill="#2cb3d7" stroke="#2cb3d7" stroke-width="0.35"/>
<polygon points="266.8,241.3 275.0,239.6 270.3,236.6 262.2,238.3" fill="#3e26d3" stroke="#3e26d3" stroke-width="0.35"/>
<polygon points="262.2,238.3 270.3,236.6 265.7,233.5 257.5,235.2" fill="#4647f2" stroke="#4647f2" stroke-width="0.35"/>
<polygon points="257.5,235.2 265.7,233.5 261.0,230.5 252.8,232.2" fill="#33bcbb" stroke="#33bcbb" stroke-width="0.35"/>
<polygon points="252.8,232.2 261.0,230.5 256.3,227.5 248.1,229.2" fill="#402ce2" stroke="#402ce2" stroke-width="0.35"/>
<polygon points="248.1,229.2 256.3,227.5 251.6,224.4 243.4,226.1" fill="#4643f1" stroke="#4643f1" stroke-width="0.35"/>
<polygon points="243.4,226.1 251.6,224.4 246.9,221.4 238.7,223.1" fill="#3f27d6" stroke="#3f27d6" stroke-width="0.35"/>
<polygon points="238.7,223.1 246.9,221.4 242.2,218.3 234.1,220.1" fill="#402ce1" stroke="#402ce1" stroke-width="0.35"/>
<polygon points="234.1,220.1 242.2,218.3 237.6,215.3 229.4,217.0" fill="#402adc" stroke="#402adc" stroke-width="0.35"/>
<polygon points="229.4,217.0 237.6,215.3 232.9,212.3 224.7,214.0" fill="#4362f4" stroke="#4362f4" stroke-width="0.35"/>
<polygon points="224.7,214.0 232.9,212.3 228.2,209.2 220.0,211.0" fill="#2db1d9" stroke="#2db1d9" stroke-width="0.35"/>
<polygon points="220.0,211.0 228.2,209.2 223.5,206.2 215.3,207.9" fill="#4643f1" stroke="#4643f1" stroke-width="0.35"/>
<polygon points="215.3,207.9 223.5,206.2 218.8,203.2 210.6,204.9" fill="#3e27d4" stroke="#3e27d4" stroke-width="0.35"/>
<polygon points="210.6,204.9 218.8,203.2 214.1,200.1 205.9,201.9" fill="#416bf4" stroke="#416bf4" stroke-width="0.35"/>
<polygon points="205.9,201.9 214.1,200.1 209.4,197.1 201.3,198.8" fill="#4755f4" stroke="#4755f4" stroke-width="0.35"/>
<polygon points="201.3,198.8 209.4,197.1 204.8,194.1 196.6,195.8" fill="#4265f4" stroke="#4265f4" stroke-width="0.35"/>
<polygon points="196.6,195.8 204.8,194.1 200.1,191.0 191.9,192.8" fill="#412de4" stroke="#412de4" stroke-width="0.35"/>
<polygon points="191.9,192.8 200.1,191.0 195.4,188.0 187.2,189.7" fill="#402ce2" stroke="#402ce2" stroke-width="0.35"/>
<polygon points="187.2,189.7 195.4,188.0 190.7,185.0 182.5,186.7" fill="#402bde" stroke="#402bde" stroke-width="0.35"/>
<polygon points="182.5,186.7 190.7,185.0 186.0,181.9 177.8,183.6" fill="#484ef4" stroke="#484ef4" stroke-width="0.35"/>
<polygon points="177.8,183.6 186.0,181.9 181.3,178.9 173.1,180.6" fill="#4749f2" stroke="#4749f2" stroke-width="0.35"/>
<polygon points="275.0,239.6 283.2,237.9 278.5,234.8 270.3,236.6" fill="#453ff0" stroke="#453ff0" stroke-width="0.35"/>
<polygon points="270.3,236.6 278.5,234.8 273.8,231.8 265.7,233.5" fill="#339ce8" stroke="#339ce8" stroke-width="0.35"/>
<polygon points="265.7,233.5 273.8,231.8 269.2,228.8 261.0,230.5" fill="#402adc" stroke="#402adc" stroke-width="0.35"/>
<polygon points="261.0,230.5 269.2,228.8 264.5,225.7 256.3,227.5" fill="#e7d439" stroke="#e7d439" stroke-width="0.35"/>
<polygon points="256.3,227.5 264.5,225.7 259.8,222.7 251.6,224.4" fill="#3e27d3" stroke="#3e27d3" stroke-width="0.35"/>
<polygon points="251.6,224.4 259.8,222.7 255.1,219.7 246.9,221.4" fill="#349aea" stroke="#349aea" stroke-width="0.35"/>
<polygon points="246.9,221.4 255.1,219.7 250.4,216.6 242.2,218.3" fill="#412ee7" stroke="#412ee7" stroke-width="0.35"/>
<polygon points="242.2,218.3 250.4,216.6 245.7,213.6 237.6,215.3" fill="#412ce3" stroke="#412ce3" stroke-width="0.35"/>
<polygon points="237.6,215.3 245.7,213.6 241.1,210.6 232.9,212.3" fill="#455cf4" stroke="#455cf4" stroke-width="0.35"/>
<polygon points="232.9,212.3 241.1,210.6 236.4,207.5 228.2,209.2" fill="#4362f4" stroke="#4362f4" stroke-width="0.35"/>
<polygon points="228.2,209.2 236.4,207.5 231.7,204.5 223.5,206.2" fill="#4657f4" stroke="#4657f4" stroke-width="0.35"/>
<polygon points="223.5,206.2 231.7,204.5 227.0,201.5 218.8,203.2" fill="#c5c43d" stroke="#c5c43d" stroke-width="0.35"/>
<polygon points="218.8,203.2 227.0,201.5 222.3,198.4 214.1,200.1" fill="#3988f5" stroke="#3988f5" stroke-width="0.35"/>
<polygon points="214.1,200.1 222.3,198.4 217.6,195.4 209.4,197.1" fill="#38c3a6" stroke="#38c3a6" stroke-width="0.35"/>
<polygon points="209.4,197.1 217.6,195.4 212.9,192.3 204.8,194.1" fill="#4657f4" stroke="#4657f4" stroke-width="0.35"/>
<polygon points="204.8,194.1 212.9,192.3 208.3,189.3 200.1,191.0" fill="#ecf043" stroke="#ecf043" stroke-width="0.35"/>
<polygon points="200.1,191.0 208.3,189.3 203.6,186.3 195.4,188.0" fill="#402add" stroke="#402add" stroke-width="0.35"/>
<polygon points="195.4,188.0 203.6,186.3 198.9,183.2 190.7,185.0" fill="#412ee7" stroke="#412ee7" stroke-width="0.35"/>
<polygon points="190.7,185.0 198.9,183.2 194.2,180.2 186.0,181.9" fill="#402ce1" stroke="#402ce1" stroke-width="0.35"/>
<polygon points="186.0,181.9 194.2,180.2 189.5,177.2 181.3,178.9" fill="#3f28d7" stroke="#3f28d7" stroke-width="0.35"/>
<polygon points="283.2,237.9 291.4,236.2 286.7,233.1 278.5,234.8" fill="#e9e43d" stroke="#e9e43d" stroke-width="0.35"/>
<polygon points="278.5,234.8 286.7,233.1 282.0,230.1 273.8,231.8" fill="#484ef4" stroke="#484ef4" stroke-width="0.35"/>
<polygon points="273.8,231.8 282.0,230.1 277.3,227.0 269.2,228.8" fill="#339ce9" stroke="#339ce9" stroke-width="0.35"/>
<polygon points="269.2,228.8 277.3,227.0 272.7,224.0 264.5,225.7" fill="#3f29db" stroke="#3f29db" stroke-width="0.35"/>
<polygon points="264.5,225.7 272.7,224.0 268.0,221.0 259.8,222.7" fill="#38c3a5" stroke="#38c3a5" stroke-width="0.35"/>
<polygon points="259.8,222.7 268.0,221.0 263.3,217.9 255.1,219.7" fill="#3f27d6" stroke="#3f27d6" stroke-width="0.35"/>
<polygon points="255.1,219.7 263.3,217.9 258.6,214.9 250.4,216.6" fill="#4643f1" stroke="#4643f1" stroke-width="0.35"/>
<polygon points="250.4,216.6 258.6,214.9 253.9,211.9 245.7,213.6" fill="#402be0" stroke="#402be0" stroke-width="0.35"/>
<polygon points="245.7,213.6 253.9,211.9 249.2,208.8 241.1,210.6" fill="#3f2adb" stroke="#3f2adb" stroke-width="0.35"/>
<polygon points="241.1,210.6 249.2,208.8 244.6,205.8 236.4,207.5" fill="#eef545" stroke="#eef545" stroke-width="0.35"/>
<polygon points="236.4,207.5 244.6,205.8 239.9,202.8 231.7,204.5" fill="#3e27d5" stroke="#3e27d5" stroke-width="0.35"/>
<polygon points="231.7,204.5 239.9,202.8 235.2,199.7 227.0,201.5" fill="#412ee6" stroke="#412ee6" stroke-width="0.35"/>
<polygon points="227.0,201.5 235.2,199.7 230.5,196.7 222.3,198.4" fill="#402bde" stroke="#402bde" stroke-width="0.35"/>
<polygon points="222.3,198.4 230.5,196.7 225.8,193.7 217.6,195.4" fill="#4755f4" stroke="#4755f4" stroke-width="0.35"/>
<polygon points="217.6,195.4 225.8,193.7 221.1,190.6 212.9,192.3" fill="#e7df3a" stroke="#e7df3a" stroke-width="0.35"/>
<polygon points="212.9,192.3 221.1,190.6 216.4,187.6 208.3,189.3" fill="#3f28d8" stroke="#3f28d8" stroke-width="0.35"/>
<polygon points="208.3,189.3 216.4,187.6 211.8,184.6 203.6,186.3" fill="#3f28d8" stroke="#3f28d8" stroke-width="0.35"/>
<polygon points="203.6,186.3 211.8,184.6 207.1,181.5 198.9,183.2" fill="#3f28d6" stroke="#3f28d6" stroke-width="0.35"/>
<polygon points="198.9,183.2 207.1,181.5 202.4,178.5 194.2,180.2" fill="#3f28d8" stroke="#3f28d8" stroke-width="0.35"/>
<polygon points="194.2,180.2 202.4,178.5 197.7,175.5 189.5,177.2" fill="#32bcbc" stroke="#32bcbc" stroke-width="0.35"/>
<line x1="118.3" y1="264.5" x2="113.9" y2="265.7" stroke="#888" stroke-width="0.7"/>
<line x1="99.6" y1="252.3" x2="95.2" y2="253.5" stroke="#888" stroke-width="0.7"/>
<line x1="80.8" y1="240.2" x2="76.4" y2="241.4" stroke="#888" stroke-width="0.7"/>
<line x1="62.1" y1="228.1" x2="57.7" y2="229.3" stroke="#888" stroke-width="0.7"/>
<line x1="43.4" y1="215.9" x2="39.0" y2="217.1" stroke="#888" stroke-width="0.7"/>
<text x="32.0" y="228.0" font-size="10.3" text-anchor="middle">2</text>
<text x="50.9" y="239.9" font-size="10.3" text-anchor="middle">1</text>
<text x="69.5" y="252.0" font-size="10.3" text-anchor="middle">0</text>
<text x="86.3" y="263.8" font-size="10.3" text-anchor="middle">-1</text>
<text x="105.1" y="275.6" font-size="10.3" text-anchor="middle">-2</text>
<line x1="144.1" y1="267.1" x2="146.9" y2="269.8" stroke="#888" stroke-width="0.7"/>
<line x1="176.8" y1="260.2" x2="179.6" y2="262.9" stroke="#888" stroke-width="0.7"/>
<line x1="209.5" y1="253.3" x2="212.3" y2="256.1" stroke="#888" stroke-width="0.7"/>
<line x1="242.3" y1="246.5" x2="245.1" y2="249.2" stroke="#888" stroke-width="0.7"/>
<line x1="275.0" y1="239.6" x2="277.8" y2="242.3" stroke="#888" stroke-width="0.7"/>
<text x="154.3" y="281.2" font-size="10.3" text-anchor="middle">-2</text>
<text x="187.6" y="273.8" font-size="10.3" text-anchor="middle">-1</text>
<text x="218.2" y="266.7" font-size="10.3" text-anchor="middle">0</text>
<text x="250.8" y="260.5" font-size="10.3" text-anchor="middle">1</text>
<text x="284.0" y="253.4" font-size="10.3" text-anchor="middle">2</text>
<text x="77.6" y="282.4" font-size="11.1" text-anchor="end">Off-axis</text>
<text x="77.6" y="295.6" font-size="11.1" text-anchor="end">distance (cm)</text>
<text x="193.6" y="289.3" font-size="11.1">Off-axis</text>
<text x="193.6" y="300.1" font-size="11.1">distance (cm)</text>
<g fill="#4a48b4" fill-opacity="0.2" stroke="#2a2880" stroke-opacity="0.12" stroke-width="0.5"><polygon points="123.0,138.5 134.9,136.0 141.6,140.4 141.6,152.0 129.8,154.5 123.0,150.1"/><polygon points="116.2,137.7 128.1,135.2 134.9,139.6 134.9,146.2 123.0,148.7 116.2,144.3"/><polygon points="109.5,137.9 121.3,135.4 128.1,139.8 128.1,149.8 116.2,152.3 109.5,147.9"/><polygon points="102.7,126.4 114.5,124.0 121.3,128.3 121.3,134.6 109.5,137.1 102.7,132.7"/><polygon points="95.9,120.5 107.8,118.0 114.5,122.4 114.5,131.3 102.7,133.7 95.9,129.3"/><polygon points="89.1,117.7 101.0,115.2 107.8,119.6 107.8,127.4 95.9,129.9 89.1,125.5"/><polygon points="82.4,119.6 94.2,117.1 101.0,121.5 101.0,128.8 89.1,131.3 82.4,126.9"/><polygon points="75.6,113.9 87.4,111.4 94.2,115.8 94.2,122.4 82.4,124.9 75.6,120.5"/><polygon points="68.8,102.5 80.7,100.0 87.4,104.4 87.4,111.5 75.6,114.0 68.8,109.6"/><polygon points="62.0,99.5 73.9,97.0 80.7,101.4 80.7,108.7 68.8,111.2 62.0,106.8"/><polygon points="55.3,93.5 67.1,91.0 73.9,95.4 73.9,105.3 62.0,107.8 55.3,103.4"/><polygon points="48.5,91.9 60.3,89.5 67.1,93.8 67.1,100.4 55.3,102.9 48.5,98.5"/><polygon points="41.7,94.5 53.6,92.0 60.3,96.4 60.3,107.7 48.5,110.2 41.7,105.8"/><polygon points="128.1,142.9 139.9,140.4 146.7,144.8 146.7,155.1 134.9,157.6 128.1,153.2"/><polygon points="121.3,128.4 133.1,125.9 139.9,130.3 139.9,139.7 128.1,142.2 121.3,137.8"/><polygon points="114.5,123.9 126.4,121.4 133.1,125.8 133.1,134.5 121.3,137.0 114.5,132.6"/><polygon points="107.8,117.2 119.6,114.7 126.4,119.1 126.4,131.1 114.5,133.6 107.8,129.2"/><polygon points="94.2,108.0 106.0,105.6 112.8,109.9 112.8,116.5 101.0,118.9 94.2,114.5"/><polygon points="87.4,108.3 99.3,105.8 106.0,110.2 106.0,118.4 94.2,120.9 87.4,116.5"/><polygon points="80.7,100.6 92.5,98.1 99.3,102.5 99.3,110.9 87.4,113.4 80.7,109.0"/><polygon points="73.9,102.1 85.7,99.6 92.5,104.0 92.5,114.5 80.7,117.0 73.9,112.6"/><polygon points="67.1,92.4 78.9,89.9 85.7,94.3 85.7,101.7 73.9,104.2 67.1,99.8"/><polygon points="60.3,87.3 72.2,84.8 78.9,89.2 78.9,96.4 67.1,98.9 60.3,94.5"/><polygon points="53.6,89.8 65.4,87.3 72.2,91.7 72.2,100.4 60.3,102.9 53.6,98.5"/><polygon points="146.7,133.7 158.5,131.2 165.3,135.6 165.3,146.7 153.5,149.2 146.7,144.8"/><polygon points="139.9,130.4 151.8,127.9 158.5,132.3 158.5,140.8 146.7,143.3 139.9,138.9"/><polygon points="133.1,126.6 145.0,124.1 151.8,128.5 151.8,139.9 139.9,142.3 133.1,138.0"/><polygon points="126.4,120.7 138.2,118.2 145.0,122.6 145.0,128.8 133.1,131.3 126.4,126.9"/><polygon points="119.6,115.7 131.4,113.2 138.2,117.6 138.2,127.6 126.4,130.1 119.6,125.7"/><polygon points="112.8,113.5 124.7,111.0 131.4,115.4 131.4,124.3 119.6,126.8 112.8,122.4"/><polygon points="106.0,107.0 117.9,104.5 124.7,108.9 124.7,119.5 112.8,122.0 106.0,117.6"/><polygon points="99.3,109.6 111.1,107.1 117.9,111.5 117.9,120.3 106.0,122.8 99.3,118.4"/><polygon points="92.5,101.3 104.3,98.8 111.1,103.2 111.1,112.0 99.3,114.5 92.5,110.1"/><polygon points="78.9,95.4 90.8,92.9 97.6,97.3 97.6,103.8 85.7,106.3 78.9,101.9"/><polygon points="72.2,84.3 84.0,81.8 90.8,86.2 90.8,93.3 78.9,95.8 72.2,91.4"/><polygon points="65.4,85.0 77.2,82.5 84.0,86.9 84.0,98.6 72.2,101.1 65.4,96.7"/><polygon points="158.5,135.4 170.4,132.9 177.1,137.3 177.1,146.5 165.3,149.0 158.5,144.6"/><polygon points="151.8,125.6 163.6,123.1 170.4,127.5 170.4,139.4 158.5,141.9 151.8,137.5"/><polygon points="145.0,120.7 156.8,118.2 163.6,122.6 163.6,131.8 151.8,134.3 145.0,129.9"/><polygon points="131.4,123.7 143.3,121.3 150.0,125.6 150.0,133.6 138.2,136.1 131.4,131.7"/><polygon points="124.7,110.3 136.5,107.8 143.3,112.2 143.3,122.4 131.4,124.9 124.7,120.5"/><polygon points="117.9,104.8 129.7,102.4 136.5,106.7 136.5,114.3 124.7,116.8 117.9,112.4"/><polygon points="111.1,101.7 122.9,99.2 129.7,103.6 129.7,110.9 117.9,113.4 111.1,109.0"/><polygon points="104.3,102.2 116.2,99.7 122.9,104.1 122.9,114.7 111.1,117.2 104.3,112.8"/><polygon points="97.6,89.9 109.4,87.4 116.2,91.8 116.2,103.2 104.3,105.7 97.6,101.3"/><polygon points="90.8,92.5 102.6,90.1 109.4,94.4 109.4,105.3 97.6,107.8 90.8,103.4"/><polygon points="84.0,85.8 95.8,83.3 102.6,87.7 102.6,99.6 90.8,102.1 84.0,97.7"/><polygon points="77.2,80.0 89.1,77.5 95.8,81.9 95.8,88.2 84.0,90.6 77.2,86.3"/><polygon points="170.4,131.2 182.2,128.7 189.0,133.1 189.0,144.8 177.1,147.2 170.4,142.9"/><polygon points="163.6,124.3 175.4,121.8 182.2,126.2 182.2,134.8 170.4,137.3 163.6,132.9"/><polygon points="156.8,125.2 168.7,122.8 175.4,127.2 175.4,134.4 163.6,136.9 156.8,132.5"/><polygon points="150.0,119.8 161.9,117.3 168.7,121.7 168.7,130.2 156.8,132.7 150.0,128.3"/><polygon points="143.3,114.7 155.1,112.2 161.9,116.6 161.9,127.5 150.0,130.0 143.3,125.6"/><polygon points="136.5,106.0 148.3,103.5 155.1,107.9 155.1,114.4 143.3,116.8 136.5,112.5"/><polygon points="129.7,100.8 141.6,98.3 148.3,102.7 148.3,112.8 136.5,115.2 129.7,110.9"/><polygon points="116.2,95.2 128.0,92.8 134.8,97.1 134.8,104.4 122.9,106.9 116.2,102.5"/><polygon points="102.6,91.9 114.5,89.4 121.2,93.8 121.2,105.5 109.4,107.9 102.6,103.6"/><polygon points="95.8,78.8 107.7,76.3 114.5,80.7 114.5,89.3 102.6,91.8 95.8,87.4"/><polygon points="89.1,76.8 100.9,74.4 107.7,78.7 107.7,89.1 95.8,91.6 89.1,87.2"/><polygon points="182.2,124.8 194.0,122.3 200.8,126.7 200.8,137.3 189.0,139.8 182.2,135.4"/><polygon points="175.4,121.9 187.3,119.4 194.0,123.8 194.0,135.8 182.2,138.3 175.4,133.9"/><polygon points="168.7,126.1 180.5,123.6 187.3,128.0 187.3,137.7 175.4,140.2 168.7,135.8"/><polygon points="161.9,113.3 173.7,110.8 180.5,115.2 180.5,125.3 168.7,127.8 161.9,123.4"/><polygon points="155.1,116.8 166.9,114.3 173.7,118.7 173.7,129.1 161.9,131.6 155.1,127.2"/><polygon points="148.3,103.6 160.2,101.1 166.9,105.5 166.9,115.0 155.1,117.5 148.3,113.1"/><polygon points="141.6,108.3 153.4,105.8 160.2,110.2 160.2,116.5 148.3,119.0 141.6,114.6"/><polygon points="134.8,97.0 146.6,94.5 153.4,98.9 153.4,109.1 141.6,111.5 134.8,107.2"/><polygon points="128.0,94.3 139.8,91.8 146.6,96.2 146.6,102.7 134.8,105.2 128.0,100.8"/><polygon points="121.2,85.6 133.1,83.1 139.8,87.5 139.8,95.8 128.0,98.3 121.2,93.9"/><polygon points="114.5,92.6 126.3,90.2 133.1,94.5 133.1,102.8 121.2,105.3 114.5,100.9"/><polygon points="107.7,77.3 119.5,74.8 126.3,79.2 126.3,87.0 114.5,89.5 107.7,85.1"/><polygon points="100.9,72.8 112.7,70.3 119.5,74.7 119.5,84.9 107.7,87.4 100.9,83.0"/><polygon points="194.0,123.0 205.9,120.5 212.7,124.9 212.7,134.4 200.8,136.9 194.0,132.5"/><polygon points="180.5,115.4 192.3,112.9 199.1,117.3 199.1,125.7 187.3,128.1 180.5,123.7"/><polygon points="173.7,111.8 185.6,109.3 192.3,113.7 192.3,124.3 180.5,126.8 173.7,122.4"/><polygon points="166.9,104.5 178.8,102.0 185.6,106.4 185.6,116.4 173.7,118.9 166.9,114.5"/><polygon points="160.2,104.7 172.0,102.2 178.8,106.6 178.8,113.2 166.9,115.7 160.2,111.3"/><polygon points="153.4,102.2 165.2,99.7 172.0,104.1 172.0,114.7 160.2,117.2 153.4,112.8"/><polygon points="146.6,96.9 158.5,94.4 165.2,98.8 165.2,110.3 153.4,112.8 146.6,108.4"/><polygon points="139.8,96.7 151.7,94.2 158.5,98.6 158.5,108.5 146.6,111.0 139.8,106.6"/><polygon points="133.1,86.7 144.9,84.2 151.7,88.6 151.7,96.9 139.8,99.4 133.1,95.0"/><polygon points="126.3,81.3 138.1,78.8 144.9,83.2 144.9,93.1 133.1,95.6 126.3,91.2"/><polygon points="119.5,87.4 131.4,84.9 138.1,89.3 138.1,96.0 126.3,98.5 119.5,94.1"/><polygon points="112.7,72.2 124.6,69.7 131.4,74.1 131.4,81.9 119.5,84.4 112.7,80.0"/><polygon points="205.9,122.1 217.7,119.6 224.5,124.0 224.5,135.5 212.7,137.9 205.9,133.6"/><polygon points="199.1,118.5 210.9,116.0 217.7,120.4 217.7,132.2 205.9,134.7 199.1,130.3"/><polygon points="192.3,121.8 204.2,119.3 210.9,123.7 210.9,131.2 199.1,133.7 192.3,129.3"/><polygon points="185.6,109.3 197.4,106.9 204.2,111.2 204.2,118.2 192.3,120.7 185.6,116.3"/><polygon points="178.8,114.7 190.6,112.2 197.4,116.6 197.4,125.9 185.6,128.4 178.8,124.0"/><polygon points="172.0,106.2 183.8,103.7 190.6,108.1 190.6,115.8 178.8,118.3 172.0,113.9"/><polygon points="165.2,100.7 177.1,98.2 183.8,102.6 183.8,113.4 172.0,115.9 165.2,111.5"/><polygon points="158.5,91.8 170.3,89.3 177.1,93.7 177.1,104.8 165.2,107.3 158.5,102.9"/><polygon points="151.7,85.5 163.5,83.0 170.3,87.4 170.3,94.1 158.5,96.6 151.7,92.2"/><polygon points="144.9,81.0 156.7,78.5 163.5,82.9 163.5,90.4 151.7,92.9 144.9,88.5"/><polygon points="138.1,78.1 150.0,75.6 156.7,80.0 156.7,88.4 144.9,90.9 138.1,86.5"/><polygon points="124.6,70.1 136.4,67.6 143.2,72.0 143.2,82.1 131.4,84.6 124.6,80.2"/><polygon points="217.7,119.8 229.6,117.3 236.3,121.7 236.3,128.7 224.5,131.2 217.7,126.8"/><polygon points="210.9,113.9 222.8,111.4 229.6,115.8 229.6,126.4 217.7,128.9 210.9,124.5"/><polygon points="204.2,109.3 216.0,106.8 222.8,111.2 222.8,123.2 210.9,125.7 204.2,121.3"/><polygon points="197.4,105.1 209.2,102.6 216.0,107.0 216.0,113.7 204.2,116.1 197.4,111.8"/><polygon points="190.6,100.3 202.5,97.8 209.2,102.2 209.2,113.7 197.4,116.2 190.6,111.8"/><polygon points="183.8,106.7 195.7,104.3 202.5,108.6 202.5,119.0 190.6,121.5 183.8,117.1"/><polygon points="177.1,93.4 188.9,90.9 195.7,95.3 195.7,104.8 183.8,107.3 177.1,102.9"/><polygon points="170.3,86.3 182.1,83.8 188.9,88.2 188.9,95.1 177.1,97.6 170.3,93.2"/><polygon points="163.5,92.3 175.4,89.8 182.1,94.2 182.1,103.9 170.3,106.4 163.5,102.0"/><polygon points="156.7,85.6 168.6,83.2 175.4,87.5 175.4,96.9 163.5,99.4 156.7,95.0"/><polygon points="150.0,74.3 161.8,71.8 168.6,76.2 168.6,86.7 156.7,89.2 150.0,84.8"/><polygon points="143.2,70.9 155.0,68.4 161.8,72.8 161.8,82.3 150.0,84.8 143.2,80.4"/><polygon points="222.8,110.4 234.6,107.9 241.4,112.3 241.4,121.6 229.6,124.1 222.8,119.7"/><polygon points="216.0,110.4 227.8,107.9 234.6,112.3 234.6,122.8 222.8,125.3 216.0,120.9"/><polygon points="209.2,103.3 221.1,100.8 227.8,105.2 227.8,114.3 216.0,116.8 209.2,112.4"/><polygon points="202.5,99.1 214.3,96.6 221.1,101.0 221.1,108.5 209.2,111.0 202.5,106.6"/><polygon points="195.7,93.2 207.5,90.8 214.3,95.1 214.3,102.5 202.5,105.0 195.7,100.6"/><polygon points="188.9,89.8 200.7,87.3 207.5,91.7 207.5,103.5 195.7,106.0 188.9,101.6"/><polygon points="182.1,94.2 194.0,91.7 200.7,96.1 200.7,104.6 188.9,107.1 182.1,102.7"/><polygon points="168.6,88.1 180.4,85.6 187.2,90.0 187.2,101.1 175.4,103.6 168.6,99.2"/><polygon points="161.8,78.7 173.6,76.2 180.4,80.6 180.4,92.0 168.6,94.5 161.8,90.1"/><polygon points="148.3,64.8 160.1,62.3 166.9,66.7 166.9,74.2 155.0,76.6 148.3,72.3"/><polygon points="241.4,114.5 253.2,112.0 260.0,116.4 260.0,128.1 248.2,130.6 241.4,126.2"/><polygon points="234.6,109.3 246.5,106.8 253.2,111.2 253.2,120.5 241.4,123.0 234.6,118.6"/><polygon points="227.8,105.8 239.7,103.3 246.5,107.7 246.5,118.3 234.6,120.8 227.8,116.4"/><polygon points="221.1,112.6 232.9,110.1 239.7,114.5 239.7,123.3 227.8,125.8 221.1,121.4"/><polygon points="214.3,95.7 226.1,93.2 232.9,97.6 232.9,105.8 221.1,108.3 214.3,103.9"/><polygon points="207.5,96.6 219.4,94.1 226.1,98.5 226.1,110.3 214.3,112.8 207.5,108.4"/><polygon points="200.7,86.5 212.6,84.0 219.4,88.4 219.4,99.2 207.5,101.7 200.7,97.3"/><polygon points="194.0,84.8 205.8,82.3 212.6,86.7 212.6,96.3 200.7,98.8 194.0,94.4"/><polygon points="187.2,78.7 199.0,76.2 205.8,80.6 205.8,89.3 194.0,91.8 187.2,87.4"/><polygon points="180.4,74.1 192.3,71.7 199.0,76.0 199.0,86.9 187.2,89.4 180.4,85.0"/><polygon points="173.6,74.6 185.5,72.1 192.3,76.5 192.3,84.2 180.4,86.7 173.6,82.3"/><polygon points="166.9,64.8 178.7,62.3 185.5,66.7 185.5,77.8 173.6,80.3 166.9,75.9"/><polygon points="253.2,122.8 265.1,120.3 271.8,124.7 271.8,133.1 260.0,135.6 253.2,131.2"/><polygon points="246.5,113.1 258.3,110.6 265.1,115.0 265.1,122.6 253.2,125.0 246.5,120.7"/><polygon points="239.7,100.8 251.5,98.3 258.3,102.7 258.3,112.4 246.5,114.9 239.7,110.5"/><polygon points="232.9,101.2 244.7,98.7 251.5,103.1 251.5,112.8 239.7,115.2 232.9,110.8"/><polygon points="226.1,100.0 238.0,97.5 244.7,101.9 244.7,110.0 232.9,112.5 226.1,108.1"/><polygon points="212.6,84.3 224.4,81.8 231.2,86.2 231.2,94.4 219.4,96.9 212.6,92.5"/><polygon points="205.8,89.7 217.6,87.2 224.4,91.6 224.4,99.2 212.6,101.7 205.8,97.3"/><polygon points="199.0,79.1 210.9,76.6 217.6,81.0 217.6,87.1 205.8,89.6 199.0,85.2"/><polygon points="192.3,76.6 204.1,74.1 210.9,78.5 210.9,84.8 199.0,87.3 192.3,82.9"/><polygon points="185.5,68.1 197.3,65.6 204.1,70.0 204.1,78.6 192.3,81.1 185.5,76.7"/><polygon points="178.7,69.6 190.5,67.1 197.3,71.5 197.3,78.8 185.5,81.3 178.7,76.9"/><polygon points="171.9,59.4 183.8,56.9 190.5,61.3 190.5,69.4 178.7,71.9 171.9,67.5"/><polygon points="265.1,119.7 276.9,117.2 283.7,121.6 283.7,131.7 271.8,134.2 265.1,129.8"/><polygon points="258.3,104.0 270.1,101.5 276.9,105.9 276.9,112.5 265.1,114.9 258.3,110.6"/><polygon points="251.5,101.3 263.4,98.8 270.1,103.2 270.1,111.7 258.3,114.2 251.5,109.8"/><polygon points="244.7,95.9 256.6,93.5 263.4,97.8 263.4,104.8 251.5,107.3 244.7,102.9"/><polygon points="238.0,91.8 249.8,89.3 256.6,93.7 256.6,100.1 244.7,102.6 238.0,98.2"/><polygon points="231.2,87.8 243.0,85.3 249.8,89.7 249.8,95.9 238.0,98.4 231.2,94.0"/><polygon points="217.6,82.4 229.5,79.9 236.3,84.3 236.3,92.8 224.4,95.3 217.6,90.9"/><polygon points="210.9,85.7 222.7,83.2 229.5,87.6 229.5,94.4 217.6,96.9 210.9,92.5"/><polygon points="204.1,70.3 215.9,67.8 222.7,72.2 222.7,82.4 210.9,84.9 204.1,80.5"/><polygon points="197.3,64.4 209.2,61.9 215.9,66.3 215.9,75.7 204.1,78.1 197.3,73.8"/><polygon points="190.5,59.1 202.4,56.7 209.2,61.0 209.2,69.0 197.3,71.5 190.5,67.1"/><polygon points="183.8,55.7 195.6,53.2 202.4,57.6 202.4,66.6 190.5,69.1 183.8,64.7"/></g>
<g fill="#26218c" fill-opacity="0.4" stroke="#1e1c70" stroke-opacity="0.3" stroke-width="0.6"><polygon points="128.1,150.8 134.6,149.5 138.4,151.9 138.4,162.0 131.8,163.4 128.1,161.0"/><polygon points="121.1,144.3 127.6,142.9 131.4,145.4 131.4,150.6 124.8,152.0 121.1,149.6"/><polygon points="112.0,148.6 118.5,147.3 122.3,149.7 122.3,155.1 115.7,156.5 112.0,154.1"/><polygon points="107.9,132.8 114.5,131.5 118.2,133.9 118.2,145.3 111.7,146.7 107.9,144.3"/><polygon points="101.1,129.0 107.6,127.6 111.4,130.1 111.4,142.2 104.8,143.6 101.1,141.1"/><polygon points="92.3,125.6 98.9,124.2 102.6,126.6 102.6,135.5 96.1,136.8 92.3,134.4"/><polygon points="88.3,127.1 94.8,125.8 98.6,128.2 98.6,133.8 92.0,135.2 88.3,132.7"/><polygon points="81.3,121.2 87.9,119.8 91.6,122.2 91.6,129.6 85.1,131.0 81.3,128.6"/><polygon points="71.5,110.0 78.1,108.6 81.8,111.0 81.8,117.2 75.3,118.6 71.5,116.2"/><polygon points="67.6,107.3 74.1,105.9 77.9,108.3 77.9,122.2 71.3,123.6 67.6,121.2"/><polygon points="58.9,104.3 65.5,103.0 69.2,105.4 69.2,118.2 62.7,119.6 58.9,117.1"/><polygon points="53.2,99.1 59.8,97.7 63.5,100.1 63.5,109.6 57.0,111.0 53.2,108.6"/><polygon points="46.6,105.5 53.2,104.2 56.9,106.6 56.9,114.0 50.4,115.4 46.6,112.9"/><polygon points="139.5,139.3 146.1,138.0 149.8,140.4 149.8,146.3 143.3,147.7 139.5,145.3"/><polygon points="132.9,153.8 139.5,152.4 143.2,154.9 143.2,161.5 136.7,162.9 132.9,160.5"/><polygon points="124.0,137.9 130.5,136.5 134.3,139.0 134.3,145.9 127.7,147.3 124.0,144.8"/><polygon points="118.1,133.0 124.7,131.7 128.4,134.1 128.4,140.3 121.9,141.7 118.1,139.2"/><polygon points="112.9,130.0 119.4,128.6 123.2,131.1 123.2,136.3 116.6,137.6 112.9,135.2"/><polygon points="105.6,113.1 112.2,111.7 115.9,114.2 115.9,126.5 109.4,127.9 105.6,125.5"/><polygon points="99.2,114.4 105.8,113.0 109.5,115.5 109.5,127.5 103.0,128.9 99.2,126.5"/><polygon points="93.0,116.7 99.5,115.4 103.3,117.8 103.3,130.8 96.7,132.1 93.0,129.7"/><polygon points="83.2,109.5 89.7,108.2 93.5,110.6 93.5,125.6 86.9,127.0 83.2,124.6"/><polygon points="79.9,113.3 86.5,111.9 90.2,114.3 90.2,126.9 83.7,128.2 79.9,125.8"/><polygon points="70.9,99.6 77.4,98.3 81.2,100.7 81.2,108.2 74.6,109.5 70.9,107.1"/><polygon points="65.1,94.9 71.7,93.5 75.4,96.0 75.4,110.0 68.9,111.4 65.1,108.9"/><polygon points="59.2,98.8 65.7,97.4 69.5,99.8 69.5,110.7 62.9,112.0 59.2,109.6"/><polygon points="152.7,145.2 159.3,143.8 163.0,146.3 163.0,152.8 156.5,154.2 152.7,151.8"/><polygon points="142.8,139.0 149.4,137.7 153.1,140.1 153.1,155.0 146.6,156.4 142.8,154.0"/><polygon points="137.9,138.6 144.4,137.2 148.2,139.6 148.2,152.6 141.6,154.0 137.9,151.5"/><polygon points="130.2,128.1 136.8,126.7 140.5,129.2 140.5,140.5 134.0,141.9 130.2,139.4"/><polygon points="124.9,126.4 131.5,125.0 135.2,127.4 135.2,137.1 128.7,138.5 124.9,136.1"/><polygon points="116.5,123.2 123.1,121.8 126.8,124.3 126.8,136.3 120.3,137.6 116.5,135.2"/><polygon points="112.3,118.2 118.9,116.8 122.6,119.3 122.6,133.7 116.1,135.1 112.3,132.7"/><polygon points="102.9,118.8 109.4,117.5 113.2,119.9 113.2,133.8 106.6,135.1 102.9,132.7"/><polygon points="96.8,110.0 103.3,108.6 107.1,111.1 107.1,122.5 100.5,123.9 96.8,121.5"/><polygon points="89.5,100.5 96.0,99.1 99.8,101.5 99.8,109.7 93.2,111.0 89.5,108.6"/><polygon points="84.0,102.2 90.6,100.8 94.3,103.2 94.3,108.4 87.8,109.8 84.0,107.3"/><polygon points="75.8,92.5 82.4,91.2 86.1,93.6 86.1,103.7 79.6,105.1 75.8,102.7"/><polygon points="68.7,97.8 75.3,96.4 79.0,98.8 79.0,109.1 72.5,110.5 68.7,108.0"/><polygon points="162.3,145.3 168.8,143.9 172.6,146.3 172.6,159.9 166.0,161.3 162.3,158.8"/><polygon points="154.9,138.0 161.4,136.7 165.2,139.1 165.2,149.1 158.6,150.5 154.9,148.1"/><polygon points="149.4,130.3 155.9,128.9 159.7,131.4 159.7,143.3 153.1,144.7 149.4,142.2"/><polygon points="143.0,119.3 149.5,117.9 153.3,120.3 153.3,129.6 146.7,131.0 143.0,128.6"/><polygon points="137.7,132.3 144.2,130.9 148.0,133.3 148.0,146.2 141.4,147.6 137.7,145.1"/><polygon points="129.9,121.3 136.5,119.9 140.2,122.3 140.2,134.7 133.7,136.1 129.9,133.6"/><polygon points="122.1,113.0 128.6,111.7 132.4,114.1 132.4,123.2 125.8,124.5 122.1,122.1"/><polygon points="114.7,109.0 121.3,107.6 125.0,110.0 125.0,121.2 118.5,122.6 114.7,120.1"/><polygon points="108.2,113.5 114.8,112.2 118.5,114.6 118.5,128.9 112.0,130.3 108.2,127.9"/><polygon points="102.9,101.9 109.5,100.5 113.2,102.9 113.2,108.8 106.7,110.2 102.9,107.7"/><polygon points="96.5,104.3 103.0,102.9 106.7,105.3 106.7,112.2 100.2,113.6 96.5,111.2"/><polygon points="89.0,97.9 95.6,96.6 99.3,99.0 99.3,110.9 92.8,112.3 89.0,109.8"/><polygon points="82.3,87.1 88.8,85.7 92.6,88.1 92.6,94.8 86.0,96.2 82.3,93.8"/><polygon points="176.1,143.0 182.6,141.6 186.4,144.1 186.4,156.8 179.8,158.1 176.1,155.7"/><polygon points="167.8,132.8 174.3,131.4 178.1,133.9 178.1,140.6 171.5,141.9 167.8,139.5"/><polygon points="158.7,132.8 165.2,131.4 169.0,133.8 169.0,146.9 162.4,148.3 158.7,145.8"/><polygon points="155.2,128.0 161.8,126.6 165.5,129.0 165.5,136.5 159.0,137.9 155.2,135.5"/><polygon points="148.3,125.6 154.9,124.2 158.6,126.6 158.6,139.4 152.1,140.7 148.3,138.3"/><polygon points="139.3,113.4 145.9,112.0 149.6,114.4 149.6,125.8 143.1,127.2 139.3,124.8"/><polygon points="134.0,111.2 140.6,109.8 144.3,112.2 144.3,121.1 137.8,122.5 134.0,120.0"/><polygon points="127.0,101.9 133.6,100.6 137.3,103.0 137.3,110.5 130.8,111.8 127.0,109.4"/><polygon points="118.8,102.6 125.3,101.2 129.0,103.6 129.0,114.1 122.5,115.5 118.8,113.1"/><polygon points="115.4,88.3 121.9,86.9 125.7,89.3 125.7,100.3 119.1,101.7 115.4,99.2"/><polygon points="105.7,104.2 112.3,102.8 116.0,105.3 116.0,116.4 109.5,117.8 105.7,115.3"/><polygon points="100.0,88.2 106.5,86.8 110.3,89.3 110.3,100.8 103.7,102.2 100.0,99.8"/><polygon points="93.2,88.4 99.8,87.0 103.5,89.4 103.5,95.9 97.0,97.3 93.2,94.8"/><polygon points="188.6,136.0 195.2,134.6 198.9,137.1 198.9,151.2 192.4,152.6 188.6,150.2"/><polygon points="180.6,133.7 187.2,132.3 190.9,134.8 190.9,144.4 184.4,145.8 180.6,143.4"/><polygon points="173.2,136.6 179.8,135.2 183.5,137.7 183.5,143.0 177.0,144.4 173.2,142.0"/><polygon points="166.5,123.8 173.0,122.5 176.8,124.9 176.8,137.7 170.2,139.1 166.5,136.7"/><polygon points="160.0,127.1 166.6,125.7 170.3,128.1 170.3,139.4 163.8,140.7 160.0,138.3"/><polygon points="153.9,113.7 160.4,112.3 164.2,114.8 164.2,122.2 157.6,123.5 153.9,121.1"/><polygon points="145.2,114.9 151.8,113.5 155.5,116.0 155.5,121.8 149.0,123.2 145.2,120.8"/><polygon points="138.6,107.7 145.1,106.3 148.9,108.8 148.9,115.8 142.3,117.1 138.6,114.7"/><polygon points="132.1,100.8 138.6,99.5 142.4,101.9 142.4,108.9 135.8,110.3 132.1,107.9"/><polygon points="124.7,94.4 131.3,93.0 135.0,95.4 135.0,107.9 128.5,109.3 124.7,106.9"/><polygon points="118.0,102.1 124.6,100.8 128.3,103.2 128.3,113.8 121.8,115.2 118.0,112.8"/><polygon points="110.6,85.6 117.1,84.2 120.9,86.6 120.9,92.3 114.3,93.7 110.6,91.3"/><polygon points="104.2,83.3 110.7,81.9 114.5,84.3 114.5,92.9 107.9,94.3 104.2,91.9"/><polygon points="199.7,132.7 206.2,131.3 210.0,133.8 210.0,146.9 203.4,148.2 199.7,145.8"/><polygon points="190.9,120.8 197.4,119.4 201.2,121.8 201.2,130.4 194.6,131.8 190.9,129.4"/><polygon points="185.5,123.9 192.1,122.5 195.8,125.0 195.8,138.4 189.3,139.8 185.5,137.4"/><polygon points="176.3,123.1 182.8,121.8 186.6,124.2 186.6,134.6 180.0,136.0 176.3,133.6"/><polygon points="170.7,114.5 177.3,113.2 181.0,115.6 181.0,121.3 174.5,122.7 170.7,120.2"/><polygon points="164.9,111.4 171.4,110.0 175.1,112.4 175.1,119.8 168.6,121.1 164.9,118.7"/><polygon points="158.8,112.7 165.3,111.3 169.1,113.8 169.1,123.7 162.5,125.1 158.8,122.6"/><polygon points="150.7,108.3 157.2,107.0 161.0,109.4 161.0,122.5 154.4,123.9 150.7,121.5"/><polygon points="145.1,106.9 151.7,105.5 155.4,108.0 155.4,117.1 148.9,118.5 145.1,116.1"/><polygon points="137.4,95.8 143.9,94.4 147.7,96.8 147.7,111.6 141.1,113.0 137.4,110.6"/><polygon points="129.1,92.0 135.6,90.6 139.4,93.1 139.4,103.9 132.8,105.3 129.1,102.9"/><polygon points="122.4,94.5 129.0,93.1 132.7,95.5 132.7,106.5 126.2,107.9 122.4,105.4"/><polygon points="116.2,80.5 122.7,79.1 126.5,81.5 126.5,94.8 119.9,96.1 116.2,93.7"/><polygon points="209.3,133.4 215.9,132.0 219.6,134.4 219.6,144.2 213.1,145.6 209.3,143.2"/><polygon points="203.3,130.7 209.9,129.3 213.6,131.7 213.6,139.4 207.1,140.8 203.3,138.3"/><polygon points="195.5,129.4 202.1,128.1 205.8,130.5 205.8,142.7 199.3,144.0 195.5,141.6"/><polygon points="190.9,116.5 197.4,115.1 201.2,117.5 201.2,128.9 194.6,130.3 190.9,127.9"/><polygon points="180.7,124.3 187.3,123.0 191.0,125.4 191.0,138.9 184.5,140.3 180.7,137.9"/><polygon points="176.2,114.3 182.7,113.0 186.5,115.4 186.5,130.1 179.9,131.4 176.2,129.0"/><polygon points="167.4,111.9 174.0,110.5 177.7,112.9 177.7,119.9 171.2,121.3 167.4,118.8"/><polygon points="161.6,103.8 168.1,102.4 171.9,104.9 171.9,114.5 165.3,115.9 161.6,113.5"/><polygon points="156.7,91.9 163.3,90.5 167.0,92.9 167.0,104.5 160.5,105.9 156.7,103.4"/><polygon points="146.5,88.7 153.1,87.3 156.8,89.7 156.8,102.8 150.3,104.1 146.5,101.7"/><polygon points="142.0,87.1 148.5,85.8 152.3,88.2 152.3,99.9 145.7,101.3 142.0,98.8"/><polygon points="136.6,72.6 143.1,71.2 146.9,73.7 146.9,87.0 140.3,88.4 136.6,86.0"/><polygon points="127.8,80.3 134.3,78.9 138.1,81.4 138.1,92.3 131.5,93.7 127.8,91.2"/><polygon points="219.7,127.0 226.2,125.6 230.0,128.0 230.0,137.3 223.4,138.6 219.7,136.2"/><polygon points="214.7,125.2 221.3,123.8 225.0,126.2 225.0,131.2 218.5,132.6 214.7,130.2"/><polygon points="209.6,122.2 216.1,120.8 219.9,123.3 219.9,131.5 213.3,132.9 209.6,130.4"/><polygon points="201.9,111.6 208.4,110.2 212.2,112.6 212.2,123.8 205.6,125.1 201.9,122.7"/><polygon points="195.4,112.6 202.0,111.3 205.7,113.7 205.7,125.9 199.2,127.2 195.4,124.8"/><polygon points="189.2,117.1 195.8,115.7 199.5,118.1 199.5,125.0 193.0,126.4 189.2,124.0"/><polygon points="182.9,103.2 189.4,101.8 193.2,104.3 193.2,113.9 186.6,115.2 182.9,112.8"/><polygon points="174.5,93.5 181.1,92.1 184.8,94.6 184.8,102.1 178.3,103.5 174.5,101.1"/><polygon points="166.2,102.1 172.8,100.7 176.5,103.1 176.5,110.5 170.0,111.8 166.2,109.4"/><polygon points="158.9,95.1 165.5,93.7 169.2,96.1 169.2,110.6 162.7,112.0 158.9,109.6"/><polygon points="156.0,85.6 162.6,84.2 166.3,86.6 166.3,93.5 159.8,94.9 156.0,92.5"/><polygon points="146.4,80.9 153.0,79.5 156.7,82.0 156.7,90.2 150.2,91.6 146.4,89.2"/><polygon points="140.6,66.0 147.2,64.7 150.9,67.1 150.9,78.4 144.4,79.7 140.6,77.3"/><polygon points="235.0,120.2 241.6,118.8 245.3,121.3 245.3,130.6 238.8,131.9 235.0,129.5"/><polygon points="228.6,120.0 235.1,118.7 238.9,121.1 238.9,126.5 232.3,127.9 228.6,125.4"/><polygon points="219.3,121.3 225.9,120.0 229.6,122.4 229.6,128.0 223.1,129.3 219.3,126.9"/><polygon points="214.0,112.7 220.5,111.3 224.3,113.7 224.3,121.0 217.7,122.4 214.0,120.0"/><polygon points="207.8,106.5 214.4,105.1 218.1,107.5 218.1,121.3 211.6,122.7 207.8,120.2"/><polygon points="201.9,101.3 208.5,99.9 212.2,102.3 212.2,115.3 205.7,116.7 201.9,114.3"/><polygon points="192.7,102.4 199.3,101.0 203.0,103.5 203.0,108.9 196.5,110.3 192.7,107.9"/><polygon points="185.7,104.0 192.2,102.6 196.0,105.0 196.0,119.1 189.4,120.5 185.7,118.1"/><polygon points="178.9,82.1 185.5,80.7 189.2,83.1 189.2,97.4 182.7,98.8 178.9,96.4"/><polygon points="171.0,99.4 177.5,98.0 181.2,100.4 181.2,115.5 174.7,116.9 171.0,114.4"/><polygon points="167.1,90.6 173.6,89.2 177.3,91.7 177.3,105.8 170.8,107.1 167.1,104.7"/><polygon points="158.3,75.7 164.9,74.3 168.6,76.7 168.6,84.7 162.1,86.1 158.3,83.7"/><polygon points="151.7,72.6 158.2,71.2 162.0,73.6 162.0,87.6 155.4,88.9 151.7,86.5"/><polygon points="246.8,127.0 253.3,125.6 257.1,128.1 257.1,143.0 250.5,144.4 246.8,142.0"/><polygon points="238.5,119.4 245.1,118.1 248.8,120.5 248.8,133.6 242.3,135.0 238.5,132.6"/><polygon points="232.7,117.2 239.3,115.8 243.0,118.3 243.0,132.3 236.5,133.7 232.7,131.3"/><polygon points="226.6,121.6 233.2,120.2 236.9,122.6 236.9,129.3 230.4,130.7 226.6,128.3"/><polygon points="218.5,104.4 225.0,103.0 228.8,105.4 228.8,118.9 222.2,120.3 218.5,117.9"/><polygon points="210.4,108.9 216.9,107.6 220.7,110.0 220.7,117.2 214.1,118.6 210.4,116.2"/><polygon points="205.4,98.1 211.9,96.7 215.7,99.1 215.7,109.9 209.1,111.3 205.4,108.9"/><polygon points="199.9,95.0 206.5,93.6 210.2,96.0 210.2,102.4 203.7,103.8 199.9,101.4"/><polygon points="193.1,88.1 199.7,86.7 203.4,89.2 203.4,103.3 196.9,104.7 193.1,102.3"/><polygon points="184.8,86.1 191.4,84.7 195.1,87.1 195.1,95.2 188.6,96.6 184.8,94.2"/><polygon points="179.5,82.9 186.0,81.5 189.8,83.9 189.8,91.4 183.2,92.8 179.5,90.3"/><polygon points="171.0,76.6 177.5,75.2 181.3,77.6 181.3,84.7 174.7,86.1 171.0,83.6"/><polygon points="163.6,61.3 170.2,60.0 173.9,62.4 173.9,67.6 167.4,69.0 163.6,66.6"/><polygon points="256.9,132.5 263.4,131.2 267.2,133.6 267.2,148.7 260.6,150.0 256.9,147.6"/><polygon points="249.7,120.6 256.2,119.2 260.0,121.6 260.0,130.2 253.4,131.6 249.7,129.2"/><polygon points="245.2,111.4 251.7,110.0 255.5,112.4 255.5,120.8 248.9,122.2 245.2,119.8"/><polygon points="236.1,110.9 242.6,109.6 246.4,112.0 246.4,120.7 239.8,122.1 236.1,119.7"/><polygon points="229.7,109.1 236.3,107.8 240.0,110.2 240.0,117.2 233.5,118.6 229.7,116.2"/><polygon points="225.3,90.6 231.8,89.2 235.5,91.7 235.5,100.4 229.0,101.8 225.3,99.4"/><polygon points="216.1,93.5 222.7,92.1 226.4,94.5 226.4,103.4 219.9,104.8 216.1,102.3"/><polygon points="211.7,97.6 218.2,96.3 221.9,98.7 221.9,111.4 215.4,112.8 211.7,110.3"/><polygon points="201.1,85.5 207.7,84.1 211.4,86.5 211.4,94.7 204.9,96.1 201.1,93.7"/><polygon points="195.6,84.1 202.1,82.7 205.9,85.2 205.9,96.1 199.3,97.5 195.6,95.1"/><polygon points="190.8,77.3 197.3,75.9 201.1,78.3 201.1,90.7 194.5,92.0 190.8,89.6"/><polygon points="182.8,77.5 189.3,76.1 193.1,78.6 193.1,92.3 186.5,93.7 182.8,91.2"/><polygon points="174.3,68.1 180.8,66.8 184.6,69.2 184.6,79.8 178.0,81.2 174.3,78.8"/><polygon points="269.5,129.9 276.1,128.5 279.8,130.9 279.8,145.6 273.3,147.0 269.5,144.5"/><polygon points="261.2,111.4 267.8,110.0 271.5,112.5 271.5,120.7 265.0,122.1 261.2,119.6"/><polygon points="256.7,110.4 263.3,109.0 267.0,111.5 267.0,117.3 260.5,118.6 256.7,116.2"/><polygon points="248.7,103.1 255.2,101.7 259.0,104.1 259.0,109.2 252.4,110.6 248.7,108.1"/><polygon points="241.9,98.5 248.5,97.1 252.2,99.6 252.2,109.2 245.7,110.6 241.9,108.2"/><polygon points="236.0,94.6 242.6,93.3 246.3,95.7 246.3,107.4 239.8,108.8 236.0,106.4"/><polygon points="228.0,82.4 234.5,81.1 238.3,83.5 238.3,96.3 231.7,97.6 228.0,95.2"/><polygon points="222.2,90.6 228.7,89.3 232.5,91.7 232.5,100.5 225.9,101.8 222.2,99.4"/><polygon points="213.7,92.5 220.2,91.1 224.0,93.5 224.0,99.9 217.4,101.3 213.7,98.9"/><polygon points="208.6,81.0 215.1,79.6 218.9,82.1 218.9,89.4 212.3,90.7 208.6,88.3"/><polygon points="201.7,73.4 208.2,72.0 212.0,74.4 212.0,82.7 205.4,84.1 201.7,81.7"/><polygon points="194.4,66.8 201.0,65.5 204.7,67.9 204.7,81.2 198.2,82.6 194.4,80.1"/><polygon points="186.8,65.0 193.3,63.6 197.0,66.1 197.0,76.4 190.5,77.8 186.8,75.3"/></g>
<g fill="#2a2690" fill-opacity="0.35" stroke="#1e1c70" stroke-opacity="0.3" stroke-width="0.6"><polygon points="129.3,161.1 134.3,160.1 137.1,161.9 137.1,190.3 132.2,191.3 129.3,189.5"/><polygon points="122.3,149.7 127.3,148.7 130.1,150.5 130.1,174.9 125.2,175.9 122.3,174.1"/><polygon points="113.3,154.2 118.2,153.2 121.0,155.0 121.0,178.1 116.1,179.1 113.3,177.3"/><polygon points="109.2,144.4 114.1,143.4 117.0,145.2 117.0,175.5 112.0,176.5 109.2,174.7"/><polygon points="102.4,141.3 107.3,140.2 110.1,142.1 110.1,187.6 105.2,188.6 102.4,186.8"/><polygon points="93.6,134.5 98.5,133.5 101.3,135.3 101.3,177.5 96.4,178.5 93.6,176.7"/><polygon points="89.6,132.9 94.5,131.8 97.3,133.7 97.3,169.7 92.4,170.7 89.6,168.9"/><polygon points="82.6,128.7 87.5,127.7 90.3,129.5 90.3,173.8 85.4,174.9 82.6,173.0"/><polygon points="72.8,116.3 77.7,115.3 80.5,117.1 80.5,151.9 75.6,153.0 72.8,151.1"/><polygon points="68.9,121.3 73.8,120.3 76.6,122.1 76.6,157.7 71.7,158.8 68.9,156.9"/><polygon points="60.2,117.3 65.1,116.2 68.0,118.1 68.0,150.9 63.0,151.9 60.2,150.1"/><polygon points="54.5,108.7 59.4,107.7 62.2,109.5 62.2,134.7 57.3,135.8 54.5,134.0"/><polygon points="47.9,113.1 52.8,112.0 55.6,113.9 55.6,131.4 50.7,132.4 47.9,130.6"/><polygon points="140.8,145.4 145.7,144.4 148.5,146.2 148.5,148.9 143.6,149.9 140.8,148.1"/><polygon points="134.2,156.4 139.1,155.4 142.0,157.2 142.0,161.4 137.0,162.4 134.2,160.6"/><polygon points="125.3,145.0 130.2,143.9 133.0,145.8 133.0,183.1 128.1,184.1 125.3,182.3"/><polygon points="119.4,139.4 124.3,138.3 127.1,140.1 127.1,164.3 122.2,165.4 119.4,163.6"/><polygon points="114.2,135.3 119.1,134.3 121.9,136.1 121.9,175.2 117.0,176.2 114.2,174.4"/><polygon points="106.9,125.6 111.8,124.6 114.6,126.4 114.6,148.0 109.7,149.0 106.9,147.2"/><polygon points="100.5,126.6 105.4,125.6 108.2,127.4 108.2,166.6 103.3,167.7 100.5,165.8"/><polygon points="94.3,129.8 99.2,128.8 102.0,130.6 102.0,172.7 97.1,173.8 94.3,172.0"/><polygon points="84.5,124.7 89.4,123.7 92.2,125.5 92.2,155.6 87.3,156.7 84.5,154.8"/><polygon points="81.2,126.0 86.1,124.9 88.9,126.7 88.9,151.6 84.0,152.7 81.2,150.8"/><polygon points="72.1,107.3 77.1,106.2 79.9,108.0 79.9,142.9 75.0,144.0 72.1,142.2"/><polygon points="66.4,109.1 71.3,108.0 74.1,109.9 74.1,152.0 69.2,153.0 66.4,151.2"/><polygon points="60.5,109.8 65.4,108.7 68.2,110.5 68.2,148.0 63.3,149.1 60.5,147.2"/><polygon points="154.0,151.9 158.9,150.9 161.8,152.7 161.8,153.8 156.8,154.8 154.0,153.0"/><polygon points="144.1,152.8 149.0,151.7 151.9,153.5 151.9,154.9 146.9,155.9 144.1,154.1"/><polygon points="139.2,148.0 144.1,147.0 146.9,148.8 146.9,152.5 142.0,153.5 139.2,151.7"/><polygon points="131.5,139.6 136.4,138.5 139.2,140.4 139.2,164.0 134.3,165.0 131.5,163.2"/><polygon points="126.2,136.2 131.1,135.2 133.9,137.0 133.9,182.4 129.0,183.5 126.2,181.6"/><polygon points="117.8,135.4 122.7,134.3 125.5,136.1 125.5,154.5 120.6,155.5 117.8,153.7"/><polygon points="113.6,132.8 118.5,131.8 121.3,133.6 121.3,168.1 116.4,169.2 113.6,167.4"/><polygon points="104.2,132.8 109.1,131.8 111.9,133.6 111.9,174.5 107.0,175.5 104.2,173.7"/><polygon points="98.1,121.6 103.0,120.6 105.8,122.4 105.8,142.2 100.9,143.2 98.1,141.4"/><polygon points="90.7,108.7 95.7,107.7 98.5,109.5 98.5,167.2 93.6,168.2 90.7,166.4"/><polygon points="85.3,107.5 90.2,106.4 93.0,108.2 93.0,148.1 88.1,149.2 85.3,147.4"/><polygon points="77.1,102.8 82.0,101.8 84.8,103.6 84.8,145.8 79.9,146.9 77.1,145.1"/><polygon points="70.0,108.2 74.9,107.1 77.7,109.0 77.7,151.8 72.8,152.8 70.0,151.0"/><polygon points="163.6,158.7 168.5,157.7 171.3,159.5 171.3,159.7 166.4,160.8 163.6,159.0"/><polygon points="156.2,148.2 161.1,147.2 163.9,149.0 163.9,155.8 159.0,156.9 156.2,155.0"/><polygon points="150.7,142.4 155.6,141.3 158.4,143.2 158.4,149.2 153.5,150.2 150.7,148.4"/><polygon points="144.3,128.7 149.2,127.7 152.0,129.5 152.0,158.7 147.1,159.7 144.3,157.9"/><polygon points="139.0,145.3 143.9,144.2 146.7,146.1 146.7,148.8 141.8,149.9 139.0,148.0"/><polygon points="131.2,133.8 136.1,132.7 139.0,134.6 139.0,157.1 134.0,158.1 131.2,156.3"/><polygon points="123.4,122.3 128.3,121.2 131.1,123.0 131.1,157.3 126.2,158.3 123.4,156.5"/><polygon points="116.0,120.3 120.9,119.2 123.7,121.0 123.7,157.1 118.8,158.2 116.0,156.4"/><polygon points="109.5,128.0 114.4,127.0 117.2,128.8 117.2,167.2 112.3,168.3 109.5,166.5"/><polygon points="104.2,107.9 109.1,106.8 111.9,108.6 111.9,132.6 107.0,133.7 104.2,131.8"/><polygon points="97.7,111.3 102.6,110.3 105.5,112.1 105.5,141.0 100.5,142.1 97.7,140.2"/><polygon points="90.3,110.0 95.2,108.9 98.0,110.8 98.0,137.1 93.1,138.1 90.3,136.3"/><polygon points="83.6,93.9 88.5,92.9 91.3,94.7 91.3,132.1 86.4,133.1 83.6,131.3"/><polygon points="177.4,151.3 182.3,150.2 185.1,152.1 185.1,156.6 180.2,157.7 177.4,155.8"/><polygon points="169.1,139.6 174.0,138.6 176.8,140.4 176.8,153.3 171.9,154.3 169.1,152.5"/><polygon points="159.9,146.0 164.9,144.9 167.7,146.8 167.7,156.7 162.8,157.7 159.9,155.9"/><polygon points="156.5,135.6 161.4,134.6 164.2,136.4 164.2,158.6 159.3,159.7 156.5,157.8"/><polygon points="149.6,138.4 154.5,137.4 157.3,139.2 157.3,157.1 152.4,158.1 149.6,156.3"/><polygon points="140.6,124.9 145.5,123.9 148.3,125.7 148.3,156.4 143.4,157.4 140.6,155.6"/><polygon points="135.3,120.2 140.2,119.1 143.1,121.0 143.1,157.3 138.1,158.3 135.3,156.5"/><polygon points="128.3,109.5 133.2,108.5 136.0,110.3 136.0,136.9 131.1,137.9 128.3,136.1"/><polygon points="120.0,113.2 125.0,112.2 127.8,114.0 127.8,132.8 122.9,133.9 120.0,132.0"/><polygon points="116.6,99.4 121.6,98.3 124.4,100.2 124.4,143.7 119.5,144.7 116.6,142.9"/><polygon points="107.0,115.5 111.9,114.4 114.7,116.3 114.7,142.4 109.8,143.5 107.0,141.6"/><polygon points="101.3,99.9 106.2,98.9 109.0,100.7 109.0,133.7 104.1,134.7 101.3,132.9"/><polygon points="94.5,95.0 99.4,93.9 102.3,95.8 102.3,112.7 97.3,113.7 94.5,111.9"/><polygon points="189.9,150.3 194.8,149.3 197.6,151.1 197.6,192.5 192.7,193.6 189.9,191.7"/><polygon points="181.9,143.5 186.8,142.5 189.6,144.3 189.6,173.4 184.7,174.4 181.9,172.6"/><polygon points="174.5,142.1 179.4,141.1 182.2,142.9 182.2,155.1 177.3,156.2 174.5,154.3"/><polygon points="167.7,136.8 172.7,135.8 175.5,137.6 175.5,154.8 170.6,155.8 167.7,154.0"/><polygon points="161.3,138.5 166.2,137.4 169.0,139.2 169.0,152.1 164.1,153.1 161.3,151.3"/><polygon points="155.2,121.3 160.1,120.2 162.9,122.0 162.9,159.5 158.0,160.5 155.2,158.7"/><polygon points="146.5,120.9 151.4,119.9 154.2,121.7 154.2,151.8 149.3,152.9 146.5,151.0"/><polygon points="139.9,114.8 144.8,113.8 147.6,115.6 147.6,152.6 142.7,153.7 139.9,151.8"/><polygon points="133.4,108.0 138.3,107.0 141.1,108.8 141.1,153.1 136.2,154.1 133.4,152.3"/><polygon points="126.0,107.0 130.9,106.0 133.7,107.8 133.7,153.2 128.8,154.2 126.0,152.4"/><polygon points="119.3,112.9 124.2,111.9 127.0,113.7 127.0,157.2 122.1,158.2 119.3,156.4"/><polygon points="111.9,91.4 116.8,90.4 119.6,92.2 119.6,114.4 114.7,115.5 111.9,113.7"/><polygon points="105.5,92.0 110.4,91.0 113.2,92.8 113.2,112.0 108.3,113.0 105.5,111.2"/><polygon points="201.0,145.9 205.9,144.9 208.7,146.7 208.7,188.7 203.8,189.7 201.0,187.9"/><polygon points="192.2,129.5 197.1,128.5 199.9,130.3 199.9,184.8 195.0,185.8 192.2,184.0"/><polygon points="186.8,137.5 191.7,136.5 194.6,138.3 194.6,168.5 189.6,169.5 186.8,167.7"/><polygon points="177.6,133.7 182.5,132.7 185.3,134.5 185.3,156.1 180.4,157.1 177.6,155.3"/><polygon points="172.0,120.4 176.9,119.3 179.7,121.2 179.7,140.9 174.8,141.9 172.0,140.1"/><polygon points="166.1,118.8 171.1,117.8 173.9,119.6 173.9,143.8 169.0,144.8 166.1,143.0"/><polygon points="160.0,122.8 165.0,121.7 167.8,123.6 167.8,147.5 162.9,148.5 160.0,146.7"/><polygon points="151.9,121.6 156.9,120.6 159.7,122.4 159.7,157.9 154.8,158.9 151.9,157.1"/><polygon points="146.4,116.2 151.3,115.2 154.1,117.0 154.1,150.0 149.2,151.1 146.4,149.2"/><polygon points="138.7,110.7 143.6,109.7 146.4,111.5 146.4,128.4 141.5,129.5 138.7,127.7"/><polygon points="130.4,103.0 135.3,102.0 138.1,103.8 138.1,122.2 133.2,123.2 130.4,121.4"/><polygon points="123.7,105.6 128.6,104.5 131.4,106.3 131.4,129.2 126.5,130.2 123.7,128.4"/><polygon points="117.5,93.9 122.4,92.8 125.2,94.6 125.2,132.1 120.3,133.2 117.5,131.3"/><polygon points="210.6,143.3 215.5,142.3 218.3,144.1 218.3,167.6 213.4,168.6 210.6,166.8"/><polygon points="204.6,138.5 209.5,137.4 212.3,139.3 212.3,165.9 207.4,166.9 204.6,165.1"/><polygon points="196.8,141.8 201.7,140.7 204.5,142.5 204.5,171.9 199.6,172.9 196.8,171.1"/><polygon points="192.2,128.0 197.1,127.0 199.9,128.8 199.9,152.3 195.0,153.4 192.2,151.5"/><polygon points="182.0,138.0 186.9,137.0 189.7,138.8 189.7,174.9 184.8,175.9 182.0,174.1"/><polygon points="177.4,129.1 182.4,128.1 185.2,129.9 185.2,144.1 180.3,145.1 177.4,143.3"/><polygon points="168.7,119.0 173.6,117.9 176.4,119.8 176.4,154.8 171.5,155.8 168.7,154.0"/><polygon points="162.9,113.6 167.8,112.6 170.6,114.4 170.6,137.3 165.7,138.3 162.9,136.5"/><polygon points="158.0,103.6 162.9,102.5 165.8,104.4 165.8,134.7 160.8,135.8 158.0,133.9"/><polygon points="147.8,101.8 152.7,100.8 155.5,102.6 155.5,130.6 150.6,131.6 147.8,129.8"/><polygon points="143.2,99.0 148.2,97.9 151.0,99.7 151.0,122.9 146.1,124.0 143.2,122.1"/><polygon points="137.8,86.1 142.8,85.1 145.6,86.9 145.6,125.5 140.7,126.6 137.8,124.8"/><polygon points="129.1,91.4 134.0,90.3 136.8,92.2 136.8,110.3 131.9,111.4 129.1,109.5"/><polygon points="221.0,136.3 225.9,135.3 228.7,137.1 228.7,167.7 223.8,168.7 221.0,166.9"/><polygon points="216.0,130.3 220.9,129.3 223.7,131.1 223.7,161.5 218.8,162.6 216.0,160.8"/><polygon points="210.9,130.6 215.8,129.5 218.6,131.4 218.6,166.4 213.7,167.4 210.9,165.6"/><polygon points="203.2,122.8 208.1,121.8 210.9,123.6 210.9,156.0 206.0,157.1 203.2,155.3"/><polygon points="196.7,124.9 201.6,123.9 204.5,125.7 204.5,147.0 199.5,148.1 196.7,146.3"/><polygon points="190.5,124.1 195.4,123.1 198.2,124.9 198.2,147.5 193.3,148.5 190.5,146.7"/><polygon points="184.2,112.9 189.1,111.9 191.9,113.7 191.9,138.8 187.0,139.9 184.2,138.0"/><polygon points="175.8,101.2 180.7,100.2 183.5,102.0 183.5,138.9 178.6,140.0 175.8,138.1"/><polygon points="167.5,109.5 172.4,108.5 175.2,110.3 175.2,154.0 170.3,155.1 167.5,153.2"/><polygon points="160.2,109.7 165.1,108.7 167.9,110.5 167.9,121.0 163.0,122.0 160.2,120.2"/><polygon points="157.3,92.6 162.2,91.6 165.0,93.4 165.0,129.0 160.1,130.0 157.3,128.2"/><polygon points="147.7,89.3 152.6,88.3 155.5,90.1 155.5,122.9 150.5,123.9 147.7,122.1"/><polygon points="141.9,77.4 146.8,76.4 149.7,78.2 149.7,120.2 144.7,121.2 141.9,119.4"/><polygon points="236.3,129.6 241.2,128.6 244.1,130.4 244.1,182.3 239.1,183.3 236.3,181.5"/><polygon points="229.9,125.6 234.8,124.5 237.6,126.4 237.6,159.4 232.7,160.4 229.9,158.6"/><polygon points="220.6,127.0 225.5,126.0 228.4,127.8 228.4,170.1 223.4,171.1 220.6,169.3"/><polygon points="215.3,120.1 220.2,119.1 223.0,120.9 223.0,139.5 218.1,140.5 215.3,138.7"/><polygon points="209.1,120.4 214.0,119.3 216.8,121.2 216.8,163.5 211.9,164.6 209.1,162.7"/><polygon points="203.2,114.4 208.1,113.4 210.9,115.2 210.9,146.9 206.0,148.0 203.2,146.1"/><polygon points="194.0,108.0 198.9,107.0 201.7,108.8 201.7,132.9 196.8,133.9 194.0,132.1"/><polygon points="187.0,118.2 191.9,117.2 194.7,119.0 194.7,149.2 189.8,150.2 187.0,148.4"/><polygon points="180.2,96.5 185.1,95.5 187.9,97.3 187.9,132.0 183.0,133.0 180.2,131.2"/><polygon points="172.2,114.6 177.1,113.5 180.0,115.4 180.0,138.2 175.0,139.2 172.2,137.4"/><polygon points="168.3,104.8 173.2,103.8 176.1,105.6 176.1,117.0 171.1,118.0 168.3,116.2"/><polygon points="159.6,83.8 164.5,82.8 167.3,84.6 167.3,124.7 162.4,125.7 159.6,123.9"/><polygon points="153.0,86.6 157.9,85.6 160.7,87.4 160.7,125.6 155.8,126.6 153.0,124.8"/><polygon points="248.1,142.1 253.0,141.1 255.8,142.9 255.8,158.8 250.9,159.8 248.1,158.0"/><polygon points="239.8,132.7 244.7,131.6 247.5,133.5 247.5,164.3 242.6,165.4 239.8,163.5"/><polygon points="234.0,131.4 238.9,130.4 241.8,132.2 241.8,150.1 236.8,151.1 234.0,149.3"/><polygon points="227.9,128.4 232.8,127.4 235.6,129.2 235.6,159.7 230.7,160.8 227.9,158.9"/><polygon points="219.8,118.0 224.7,117.0 227.5,118.8 227.5,156.4 222.6,157.4 219.8,155.6"/><polygon points="211.7,116.3 216.6,115.3 219.4,117.1 219.4,157.3 214.5,158.3 211.7,156.5"/><polygon points="206.7,109.0 211.6,108.0 214.4,109.8 214.4,129.3 209.5,130.3 206.7,128.5"/><polygon points="201.2,101.5 206.1,100.5 209.0,102.3 209.0,138.6 204.0,139.6 201.2,137.8"/><polygon points="194.4,102.4 199.3,101.4 202.1,103.2 202.1,122.4 197.2,123.4 194.4,121.6"/><polygon points="186.1,94.3 191.0,93.3 193.8,95.1 193.8,114.3 188.9,115.3 186.1,113.5"/><polygon points="180.8,90.5 185.7,89.4 188.5,91.3 188.5,112.4 183.6,113.4 180.8,111.6"/><polygon points="172.3,83.8 177.2,82.7 180.0,84.5 180.0,101.7 175.1,102.7 172.3,100.9"/><polygon points="164.9,66.7 169.8,65.7 172.7,67.5 172.7,100.3 167.7,101.4 164.9,99.5"/><polygon points="258.2,147.7 263.1,146.7 265.9,148.5 265.9,172.4 261.0,173.4 258.2,171.6"/><polygon points="251.0,129.3 255.9,128.3 258.7,130.1 258.7,155.2 253.8,156.3 251.0,154.4"/><polygon points="246.4,119.9 251.4,118.9 254.2,120.7 254.2,149.3 249.3,150.3 246.4,148.5"/><polygon points="237.4,119.8 242.3,118.8 245.1,120.6 245.1,150.9 240.2,151.9 237.4,150.1"/><polygon points="231.0,116.3 235.9,115.3 238.8,117.1 238.8,153.5 233.8,154.5 231.0,152.7"/><polygon points="226.5,99.5 231.5,98.5 234.3,100.3 234.3,147.4 229.4,148.4 226.5,146.6"/><polygon points="217.4,102.5 222.3,101.4 225.1,103.3 225.1,120.0 220.2,121.1 217.4,119.2"/><polygon points="212.9,110.5 217.9,109.4 220.7,111.3 220.7,129.3 215.8,130.3 212.9,128.5"/><polygon points="202.4,93.8 207.3,92.8 210.1,94.6 210.1,126.3 205.2,127.3 202.4,125.5"/><polygon points="196.8,95.2 201.8,94.2 204.6,96.0 204.6,119.9 199.7,120.9 196.8,119.1"/><polygon points="192.0,89.7 197.0,88.7 199.8,90.5 199.8,107.4 194.9,108.4 192.0,106.6"/><polygon points="184.0,91.4 189.0,90.3 191.8,92.2 191.8,128.1 186.9,129.2 184.0,127.3"/><polygon points="175.6,78.9 180.5,77.9 183.3,79.7 183.3,95.5 178.4,96.6 175.6,94.8"/><polygon points="270.8,144.7 275.7,143.6 278.5,145.4 278.5,158.0 273.6,159.0 270.8,157.2"/><polygon points="262.5,119.8 267.4,118.7 270.2,120.6 270.2,152.1 265.3,153.1 262.5,151.3"/><polygon points="258.0,116.3 262.9,115.3 265.7,117.1 265.7,141.7 260.8,142.7 258.0,140.9"/><polygon points="250.0,108.3 254.9,107.2 257.7,109.0 257.7,153.6 252.8,154.7 250.0,152.8"/><polygon points="243.2,108.3 248.1,107.3 251.0,109.1 251.0,128.1 246.0,129.1 243.2,127.3"/><polygon points="237.3,106.5 242.2,105.5 245.0,107.3 245.0,152.3 240.1,153.3 237.3,151.5"/><polygon points="229.3,95.3 234.2,94.3 237.0,96.1 237.0,128.7 232.1,129.7 229.3,127.9"/><polygon points="223.5,99.5 228.4,98.5 231.2,100.3 231.2,125.5 226.3,126.5 223.5,124.7"/><polygon points="215.0,99.0 219.9,97.9 222.7,99.8 222.7,130.1 217.8,131.1 215.0,129.3"/><polygon points="209.9,88.4 214.8,87.4 217.6,89.2 217.6,105.1 212.7,106.1 209.9,104.3"/><polygon points="203.0,81.8 207.9,80.8 210.7,82.6 210.7,116.9 205.8,117.9 203.0,116.1"/><polygon points="195.7,80.3 200.6,79.2 203.4,81.1 203.4,116.2 198.5,117.2 195.7,115.4"/><polygon points="188.0,75.5 193.0,74.4 195.8,76.3 195.8,102.5 190.9,103.5 188.0,101.7"/></g>
<defs><linearGradient id="bg" gradientUnits="userSpaceOnUse" x1="0" y1="1" x2="0" y2="222"><stop offset="0.000" stop-color="#ff3848" stop-opacity="0.97"/><stop offset="0.244" stop-color="#f5323f" stop-opacity="0.93"/><stop offset="0.335" stop-color="#e8283c" stop-opacity="0.78"/><stop offset="0.629" stop-color="#e01e3c" stop-opacity="0.7"/><stop offset="0.674" stop-color="#e83048" stop-opacity="0.52"/><stop offset="0.719" stop-color="#ea4050" stop-opacity="0.45"/><stop offset="0.855" stop-color="#e03050" stop-opacity="0.4"/><stop offset="1.000" stop-color="#d82850" stop-opacity="0.36"/></linearGradient></defs>
<polygon points="156.3,1 164.1,1 166.9,50 169.9,103 172.6,153 174.2,188 176.8,212 132.5,222 137.8,188 141.6,153 146.8,103 151.2,50" fill="url(#bg)"/>
<ellipse cx="0" cy="0" rx="25" ry="12" transform="translate(155.2,219.6) rotate(-16)" fill="#d8123a" fill-opacity="0.5" stroke="#f01c24" stroke-width="1.4"/>
<line x1="182.5" y1="1" x2="182.5" y2="46" stroke="#000" stroke-width="1.5"/>
<polygon points="177.6,44.2 187.2,44.2 182.4,53.2" fill="#000"/>
<text x="190.3" y="27.4" font-size="12.5">Incident Beam</text>
<defs><linearGradient id="cb" x1="0" y1="0" x2="0" y2="1"><stop offset="0.0000" stop-color="#eef646"/><stop offset="0.0500" stop-color="#e9e63d"/><stop offset="0.1000" stop-color="#e7d139"/><stop offset="0.1500" stop-color="#e9b43b"/><stop offset="0.2000" stop-color="#d8bb3c"/><stop offset="0.2500" stop-color="#b9c540"/><stop offset="0.3000" stop-color="#96c84c"/><stop offset="0.3500" stop-color="#74c868"/><stop offset="0.4000" stop-color="#51c885"/><stop offset="0.4500" stop-color="#3ac59f"/><stop offset="0.5000" stop-color="#34beb6"/><stop offset="0.5500" stop-color="#2eb7cd"/><stop offset="0.6000" stop-color="#2eacdc"/><stop offset="0.6500" stop-color="#339ee7"/><stop offset="0.7000" stop-color="#3790f2"/><stop offset="0.7500" stop-color="#3c7df5"/><stop offset="0.8000" stop-color="#4268f4"/><stop offset="0.8500" stop-color="#4753f4"/><stop offset="0.9000" stop-color="#443def"/><stop offset="0.9500" stop-color="#412de5"/><stop offset="1.0000" stop-color="#3e26d2"/></linearGradient></defs>
<rect x="311.8" y="23.9" width="11.7" height="246.6" fill="url(#cb)" stroke="#9a9a9a" stroke-width="0.6"/>
<line x1="321.5" y1="256.2" x2="323.5" y2="256.2" stroke="#444" stroke-width="0.6"/>
<text x="326.0" y="259.1" font-size="9.2">0.5</text>
<line x1="321.5" y1="234.9" x2="323.5" y2="234.9" stroke="#444" stroke-width="0.6"/>
<text x="326.0" y="237.8" font-size="9.2">1</text>
<line x1="321.5" y1="213.6" x2="323.5" y2="213.6" stroke="#444" stroke-width="0.6"/>
<text x="326.0" y="216.5" font-size="9.2">1.5</text>
<line x1="321.5" y1="192.3" x2="323.5" y2="192.3" stroke="#444" stroke-width="0.6"/>
<text x="326.0" y="195.2" font-size="9.2">2</text>
<line x1="321.5" y1="171.0" x2="323.5" y2="171.0" stroke="#444" stroke-width="0.6"/>
<text x="326.0" y="173.9" font-size="9.2">2.5</text>
<line x1="321.5" y1="149.8" x2="323.5" y2="149.8" stroke="#444" stroke-width="0.6"/>
<text x="326.0" y="152.7" font-size="9.2">3</text>
<line x1="321.5" y1="128.5" x2="323.5" y2="128.5" stroke="#444" stroke-width="0.6"/>
<text x="326.0" y="131.4" font-size="9.2">3.5</text>
<line x1="321.5" y1="107.2" x2="323.5" y2="107.2" stroke="#444" stroke-width="0.6"/>
<text x="326.0" y="110.1" font-size="9.2">4</text>
<line x1="321.5" y1="85.9" x2="323.5" y2="85.9" stroke="#444" stroke-width="0.6"/>
<text x="326.0" y="88.8" font-size="9.2">4.5</text>
<line x1="321.5" y1="64.6" x2="323.5" y2="64.6" stroke="#444" stroke-width="0.6"/>
<text x="326.0" y="67.5" font-size="9.2">5</text>
<line x1="321.5" y1="43.3" x2="323.5" y2="43.3" stroke="#444" stroke-width="0.6"/>
<text x="326.0" y="46.2" font-size="9.2">5.5</text>
<text transform="translate(349.3,147.6) rotate(-90)" font-size="8.95" text-anchor="middle">Water-equivalent thickness (cm)</text>
<text x="361.2" y="18.2" font-size="12.3">B)</text>
<rect x="418.8" y="38.7" width="264.3" height="226.4" fill="none" stroke="#6a6a6a" stroke-width="0.8"/>
<line x1="418.8" y1="265.1" x2="421.4" y2="265.1" stroke="#555" stroke-width="0.7"/>
<line x1="683.1" y1="265.1" x2="680.5" y2="265.1" stroke="#555" stroke-width="0.7"/>
<text x="414.3" y="269.7" font-size="10.5" text-anchor="end">0</text>
<line x1="418.8" y1="227.4" x2="421.4" y2="227.4" stroke="#555" stroke-width="0.7"/>
<line x1="683.1" y1="227.4" x2="680.5" y2="227.4" stroke="#555" stroke-width="0.7"/>
<text x="414.3" y="232.0" font-size="10.5" text-anchor="end">0.2</text>
<line x1="418.8" y1="189.6" x2="421.4" y2="189.6" stroke="#555" stroke-width="0.7"/>
<line x1="683.1" y1="189.6" x2="680.5" y2="189.6" stroke="#555" stroke-width="0.7"/>
<text x="414.3" y="194.2" font-size="10.5" text-anchor="end">0.4</text>
<line x1="418.8" y1="151.9" x2="421.4" y2="151.9" stroke="#555" stroke-width="0.7"/>
<line x1="683.1" y1="151.9" x2="680.5" y2="151.9" stroke="#555" stroke-width="0.7"/>
<text x="414.3" y="156.5" font-size="10.5" text-anchor="end">0.6</text>
<line x1="418.8" y1="114.2" x2="421.4" y2="114.2" stroke="#555" stroke-width="0.7"/>
<line x1="683.1" y1="114.2" x2="680.5" y2="114.2" stroke="#555" stroke-width="0.7"/>
<text x="414.3" y="118.8" font-size="10.5" text-anchor="end">0.8</text>
<line x1="418.8" y1="76.4" x2="421.4" y2="76.4" stroke="#555" stroke-width="0.7"/>
<line x1="683.1" y1="76.4" x2="680.5" y2="76.4" stroke="#555" stroke-width="0.7"/>
<text x="414.3" y="81.0" font-size="10.5" text-anchor="end">1</text>
<line x1="418.8" y1="38.7" x2="421.4" y2="38.7" stroke="#555" stroke-width="0.7"/>
<line x1="683.1" y1="38.7" x2="680.5" y2="38.7" stroke="#555" stroke-width="0.7"/>
<text x="414.3" y="43.3" font-size="10.5" text-anchor="end">1.2</text>
<line x1="418.8" y1="265.1" x2="418.8" y2="262.5" stroke="#555" stroke-width="0.7"/>
<line x1="418.8" y1="38.7" x2="418.8" y2="41.3" stroke="#555" stroke-width="0.7"/>
<text x="418.8" y="280.9" font-size="10.5" text-anchor="middle">0</text>
<line x1="496.5" y1="265.1" x2="496.5" y2="262.5" stroke="#555" stroke-width="0.7"/>
<line x1="496.5" y1="38.7" x2="496.5" y2="41.3" stroke="#555" stroke-width="0.7"/>
<text x="496.5" y="280.9" font-size="10.5" text-anchor="middle">5</text>
<line x1="574.3" y1="265.1" x2="574.3" y2="262.5" stroke="#555" stroke-width="0.7"/>
<line x1="574.3" y1="38.7" x2="574.3" y2="41.3" stroke="#555" stroke-width="0.7"/>
<text x="574.3" y="280.9" font-size="10.5" text-anchor="middle">10</text>
<line x1="652.0" y1="265.1" x2="652.0" y2="262.5" stroke="#555" stroke-width="0.7"/>
<line x1="652.0" y1="38.7" x2="652.0" y2="41.3" stroke="#555" stroke-width="0.7"/>
<text x="652.0" y="280.9" font-size="10.5" text-anchor="middle">15</text>
<text x="550.8" y="298.1" font-size="12.65" text-anchor="middle">Depth in water (cm)</text>
<text transform="translate(394.3,151.8) rotate(-90)" font-size="12.6" text-anchor="middle">Relative dose</text>
<polyline points="418.8,265.1 574.3,265.1 574.3,62.3 577.0,62.0 579.7,64.7 581.4,69.0 584.1,71.2 586.8,73.4 589.5,72.8 591.6,74.4 595.4,79.3 598.7,78.8 602.5,78.8 605.2,77.7 607.9,78.2 611.1,80.4 613.8,82.8 617.5,81.5 619.7,81.5 622.7,80.6 625.2,77.6 626.6,74.7 629.1,76.6 631.5,77.1 634.0,78.1 637.4,74.7 639.9,74.2 642.9,77.1 645.3,74.2 648.3,72.7 651.7,73.7 652.0,75.0 652.0,265.1 683.1,265.1" fill="none" stroke="#ff0a0a" stroke-width="2.3" stroke-linecap="round" stroke-dasharray="0.3,4.15"/>
<polyline points="418.8,265.1 574.3,265.1 574.3,76.4 652.0,76.4 652.0,265.1 683.1,265.1" fill="none" stroke="#000" stroke-width="1.45"/>
<polyline points="418.6,147.1 425.2,144.5 430.4,141.9 435.7,141.9 439.6,141.2 444.2,141.0 447.5,140.6 454.0,139.3 459.3,137.0 464.5,138.3 468.5,136.0 473.7,134.4 479.0,134.0 484.2,134.4 490.1,131.4 494.7,131.0 499.2,131.1 505.8,129.1 513.7,125.8 521.5,126.2 528.1,122.8 536.0,119.3 541.2,118.0 547.8,116.0 553.0,113.4 558.3,108.8 563.5,105.5 568.8,98.9 572.7,92.8 578.7,86.9 583.5,81.5 589.5,77.7 597.6,73.4 604.1,74.4 609.5,71.7 616.0,69.0 621.7,70.2 623.0,71.9 626.0,74.0 630.6,75.2 634.5,74.2 639.9,78.6 645.3,77.1 650.2,78.6 654.2,76.3 655.6,83.5 656.6,92.0 658.4,119.0 660.3,150.0 662.2,185.0 664.2,221.0 665.8,242.0 667.3,255.0 668.3,261.2" fill="none" stroke="#3a86d4" stroke-width="1.45" stroke-dasharray="4,4.2"/>
<rect x="424.7" y="44.3" width="125.7" height="59" fill="#fff" stroke="#444" stroke-width="0.7"/>
<line x1="424.7" y1="60.7" x2="550.4" y2="60.7" stroke="#444" stroke-width="0.7"/>
<text x="487.6" y="57.1" font-size="10.45" font-weight="bold" text-anchor="middle" fill="#000">Optimization Structures</text>
<line x1="427.2" y1="67.8" x2="447.7" y2="67.8" stroke="#ff0a0a" stroke-width="1.9" stroke-linecap="round" stroke-dasharray="0.5,4.2"/>
<line x1="426.9" y1="82" x2="447.7" y2="82" stroke="#3a86d4" stroke-width="1.45" stroke-dasharray="4,4.2"/>
<line x1="426.9" y1="95.6" x2="447.7" y2="95.6" stroke="#000" stroke-width="1.5"/>
<text x="450.6" y="71.9" font-size="10.55">New Target Goal</text>
<text x="450.6" y="86.1" font-size="10.5">MC Simulated Profile</text>
<text x="450.6" y="100.1" font-size="10.55">Initial Target Goal</text>
</svg>
</body></html>
